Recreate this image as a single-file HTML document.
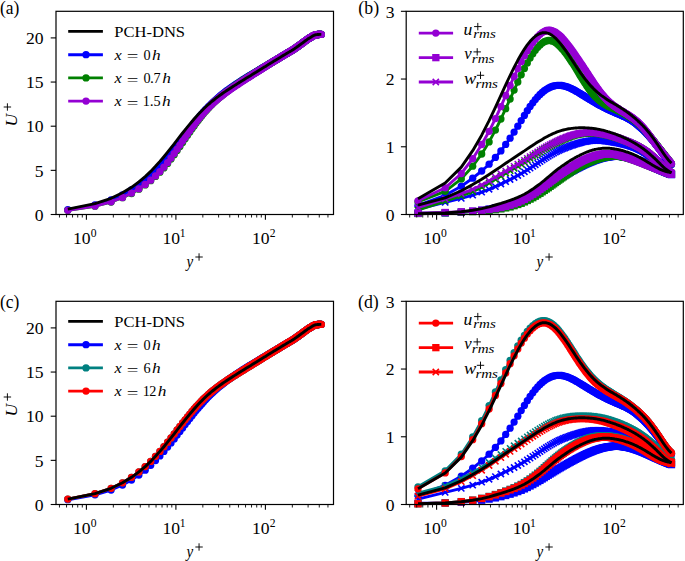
<!DOCTYPE html>
<html><head><meta charset="utf-8"><style>
html,body{margin:0;padding:0;background:#fff;}
svg{display:block;}
text{font-family:"Liberation Serif",serif;fill:#000;}
</style></head><body>
<svg width="685" height="561" viewBox="0 0 685 561">
<defs>
<marker id="ob" markerUnits="userSpaceOnUse" markerWidth="10" markerHeight="10" refX="5" refY="5" overflow="visible"><circle cx="5" cy="5" r="3.65" fill="#0000ff"/></marker>
<marker id="sb" markerUnits="userSpaceOnUse" markerWidth="10" markerHeight="10" refX="5" refY="5" overflow="visible"><rect x="1.35" y="1.35" width="7.3" height="7.3" fill="#0000ff"/></marker>
<marker id="xb" markerUnits="userSpaceOnUse" markerWidth="10" markerHeight="10" refX="5" refY="5" overflow="visible"><path d="M1.9,1.9L8.1,8.1M1.9,8.1L8.1,1.9" stroke="#0000ff" stroke-width="1.6" fill="none"/></marker>
<marker id="og" markerUnits="userSpaceOnUse" markerWidth="10" markerHeight="10" refX="5" refY="5" overflow="visible"><circle cx="5" cy="5" r="3.65" fill="#008000"/></marker>
<marker id="sg" markerUnits="userSpaceOnUse" markerWidth="10" markerHeight="10" refX="5" refY="5" overflow="visible"><rect x="1.35" y="1.35" width="7.3" height="7.3" fill="#008000"/></marker>
<marker id="xg" markerUnits="userSpaceOnUse" markerWidth="10" markerHeight="10" refX="5" refY="5" overflow="visible"><path d="M1.9,1.9L8.1,8.1M1.9,8.1L8.1,1.9" stroke="#008000" stroke-width="1.6" fill="none"/></marker>
<marker id="op" markerUnits="userSpaceOnUse" markerWidth="10" markerHeight="10" refX="5" refY="5" overflow="visible"><circle cx="5" cy="5" r="3.65" fill="#9400d3"/></marker>
<marker id="sp" markerUnits="userSpaceOnUse" markerWidth="10" markerHeight="10" refX="5" refY="5" overflow="visible"><rect x="1.35" y="1.35" width="7.3" height="7.3" fill="#9400d3"/></marker>
<marker id="xp" markerUnits="userSpaceOnUse" markerWidth="10" markerHeight="10" refX="5" refY="5" overflow="visible"><path d="M1.9,1.9L8.1,8.1M1.9,8.1L8.1,1.9" stroke="#9400d3" stroke-width="1.6" fill="none"/></marker>
<marker id="or" markerUnits="userSpaceOnUse" markerWidth="10" markerHeight="10" refX="5" refY="5" overflow="visible"><circle cx="5" cy="5" r="3.65" fill="#ff0000"/></marker>
<marker id="sr" markerUnits="userSpaceOnUse" markerWidth="10" markerHeight="10" refX="5" refY="5" overflow="visible"><rect x="1.35" y="1.35" width="7.3" height="7.3" fill="#ff0000"/></marker>
<marker id="xr" markerUnits="userSpaceOnUse" markerWidth="10" markerHeight="10" refX="5" refY="5" overflow="visible"><path d="M1.9,1.9L8.1,8.1M1.9,8.1L8.1,1.9" stroke="#ff0000" stroke-width="1.6" fill="none"/></marker>
<marker id="ot" markerUnits="userSpaceOnUse" markerWidth="10" markerHeight="10" refX="5" refY="5" overflow="visible"><circle cx="5" cy="5" r="3.65" fill="#008080"/></marker>
<marker id="st" markerUnits="userSpaceOnUse" markerWidth="10" markerHeight="10" refX="5" refY="5" overflow="visible"><rect x="1.35" y="1.35" width="7.3" height="7.3" fill="#008080"/></marker>
<marker id="xt" markerUnits="userSpaceOnUse" markerWidth="10" markerHeight="10" refX="5" refY="5" overflow="visible"><path d="M1.9,1.9L8.1,8.1M1.9,8.1L8.1,1.9" stroke="#008080" stroke-width="1.6" fill="none"/></marker>
<clipPath id="ca"><rect x="56" y="11.3" width="277.5" height="203.2"/></clipPath>
</defs>
<rect width="685" height="561" fill="#fff"/>
<path d="M67.8,209.7 95.0,204.8 111.1,200.0 122.5,195.0 131.5,190.0 138.9,185.1 145.2,180.2 150.7,175.3 155.5,170.6 159.9,165.9 163.9,161.4 167.6,157.1 171.0,152.9 174.2,148.9 177.1,145.0 179.9,141.4 182.6,137.9 185.1,134.6 187.5,131.5 189.8,128.6 192.0,125.8 194.1,123.1 196.1,120.6 198.1,118.3 200.0,116.0 201.8,113.9 203.5,111.9 205.3,110.0 206.9,108.3 208.5,106.6 210.1,105.1 211.6,103.6 213.1,102.2 214.6,100.8 216.0,99.6 217.4,98.3 218.8,97.1 220.1,96.0 221.4,94.9 222.7,93.9 224.0,92.9 225.2,91.9 226.4,91.0 227.6,90.1 228.8,89.3 229.9,88.5 231.1,87.7 232.2,86.9 233.3,86.1 234.4,85.4 235.5,84.7 236.5,84.0 237.6,83.3 238.6,82.6 239.6,82.0 240.6,81.3 241.6,80.7 242.6,80.0 243.5,79.4 244.5,78.8 245.4,78.2 246.4,77.7 247.3,77.1 248.2,76.5 249.1,76.0 250.0,75.4 250.9,74.9 251.7,74.4 252.6,73.8 253.5,73.3 254.3,72.8 255.1,72.3 256.0,71.8 256.8,71.3 257.6,70.8 258.4,70.3 259.2,69.9 260.0,69.4 260.8,68.9 261.6,68.4 262.4,68.0 263.1,67.5 263.9,67.1 264.7,66.6 265.4,66.2 266.2,65.7 266.9,65.3 267.6,64.8 268.4,64.4 269.1,64.0 269.8,63.5 270.5,63.1 271.2,62.7 271.9,62.3 272.6,61.9 273.3,61.5 274.0,61.0 274.7,60.6 275.4,60.2 276.0,59.8 276.7,59.4 277.4,59.0 278.0,58.6 278.7,58.3 279.3,57.9 280.0,57.5 280.6,57.1 281.2,56.7 281.9,56.3 282.5,55.9 283.1,55.6 283.7,55.2 284.4,54.8 285.0,54.5 285.6,54.1 286.2,53.7 286.8,53.4 287.4,53.0 288.0,52.7 288.5,52.3 289.1,52.0 289.7,51.7 290.3,51.3 290.9,51.0 291.4,50.7 292.0,50.3 292.6,50.0 293.1,49.6 293.7,49.2 294.2,48.9 294.8,48.5 295.3,48.1 295.8,47.8 296.4,47.4 296.9,47.0 297.4,46.6 298.0,46.3 298.5,45.9 299.0,45.5 299.5,45.1 300.0,44.8 300.5,44.4 301.0,44.1 301.5,43.7 302.0,43.3 302.5,43.0 303.0,42.6 303.5,42.2 304.0,41.9 304.5,41.5 304.9,41.1 305.4,40.8 305.9,40.4 306.4,40.1 306.8,39.8 307.3,39.4 307.7,39.1 308.2,38.8 308.6,38.5 309.1,38.3 309.5,38.0 310.0,37.7 310.4,37.5 310.8,37.2 311.3,36.9 311.7,36.7 312.1,36.4 312.5,36.1 312.9,35.9 313.4,35.7 313.8,35.5 314.2,35.3 314.6,35.1 315.0,35.0 315.4,34.8 315.8,34.7 316.2,34.7 316.6,34.6 316.9,34.6 317.3,34.6 317.7,34.5 318.1,34.5 318.4,34.5 318.8,34.5 319.2,34.4 319.5,34.4 319.9,34.4 320.3,34.4 320.6,34.4 321.0,34.4 321.3,34.4" stroke="#0000ff" stroke-width="2.9" fill="none" stroke-linejoin="round" stroke-linecap="butt" marker-start="url(#ob)" marker-mid="url(#ob)" marker-end="url(#ob)"/>
<path d="M67.8,210.3 95.0,206.2 111.1,202.0 122.5,197.7 131.5,193.5 138.9,189.2 145.2,184.9 150.7,180.7 155.5,176.4 159.9,172.2 163.9,167.9 167.6,163.4 171.0,159.0 174.2,154.7 177.1,150.5 179.9,146.4 182.6,142.4 185.1,138.7 187.5,135.2 189.8,131.9 192.0,128.8 194.1,125.9 196.1,123.1 198.1,120.5 200.0,118.0 201.8,115.7 203.5,113.6 205.3,111.6 206.9,109.7 208.5,107.9 210.1,106.2 211.6,104.7 213.1,103.2 214.6,101.8 216.0,100.5 217.4,99.2 218.8,98.1 220.1,96.9 221.4,95.9 222.7,94.8 224.0,93.8 225.2,92.8 226.4,91.9 227.6,91.0 228.8,90.1 229.9,89.3 231.1,88.4 232.2,87.6 233.3,86.8 234.4,86.1 235.5,85.3 236.5,84.6 237.6,83.9 238.6,83.2 239.6,82.5 240.6,81.8 241.6,81.2 242.6,80.5 243.5,79.9 244.5,79.3 245.4,78.7 246.4,78.1 247.3,77.6 248.2,77.0 249.1,76.5 250.0,75.9 250.9,75.4 251.7,74.8 252.6,74.3 253.5,73.7 254.3,73.2 255.1,72.7 256.0,72.2 256.8,71.7 257.6,71.2 258.4,70.7 259.2,70.2 260.0,69.7 260.8,69.2 261.6,68.7 262.4,68.2 263.1,67.8 263.9,67.3 264.7,66.8 265.4,66.4 266.2,65.9 266.9,65.4 267.6,65.0 268.4,64.5 269.1,64.1 269.8,63.7 270.5,63.2 271.2,62.8 271.9,62.4 272.6,61.9 273.3,61.5 274.0,61.1 274.7,60.7 275.4,60.3 276.0,59.9 276.7,59.5 277.4,59.1 278.0,58.7 278.7,58.3 279.3,57.9 280.0,57.5 280.6,57.1 281.2,56.7 281.9,56.3 282.5,55.9 283.1,55.6 283.7,55.2 284.4,54.8 285.0,54.5 285.6,54.1 286.2,53.7 286.8,53.4 287.4,53.0 288.0,52.7 288.5,52.3 289.1,52.0 289.7,51.7 290.3,51.3 290.9,51.0 291.4,50.7 292.0,50.3 292.6,50.0 293.1,49.6 293.7,49.2 294.2,48.9 294.8,48.5 295.3,48.1 295.8,47.8 296.4,47.4 296.9,47.0 297.4,46.6 298.0,46.3 298.5,45.9 299.0,45.5 299.5,45.1 300.0,44.8 300.5,44.4 301.0,44.1 301.5,43.7 302.0,43.3 302.5,43.0 303.0,42.6 303.5,42.2 304.0,41.9 304.5,41.5 304.9,41.1 305.4,40.8 305.9,40.4 306.4,40.1 306.8,39.8 307.3,39.4 307.7,39.1 308.2,38.8 308.6,38.5 309.1,38.3 309.5,38.0 310.0,37.7 310.4,37.5 310.8,37.2 311.3,36.9 311.7,36.7 312.1,36.4 312.5,36.1 312.9,35.9 313.4,35.7 313.8,35.5 314.2,35.3 314.6,35.1 315.0,35.0 315.4,34.8 315.8,34.7 316.2,34.7 316.6,34.6 316.9,34.6 317.3,34.6 317.7,34.5 318.1,34.5 318.4,34.5 318.8,34.5 319.2,34.4 319.5,34.4 319.9,34.4 320.3,34.4 320.6,34.4 321.0,34.4 321.3,34.4" stroke="#008000" stroke-width="2.9" fill="none" stroke-linejoin="round" stroke-linecap="butt" marker-start="url(#og)" marker-mid="url(#og)" marker-end="url(#og)"/>
<path d="M67.8,210.3 95.0,206.0 111.1,201.8 122.5,197.5 131.5,193.1 138.9,188.8 145.2,184.5 150.7,180.2 155.5,175.9 159.9,171.6 163.9,167.1 167.6,162.6 171.0,158.1 174.2,153.6 177.1,149.3 179.9,145.1 182.6,141.1 185.1,137.4 187.5,133.9 189.8,130.7 192.0,127.6 194.1,124.8 196.1,122.1 198.1,119.6 200.0,117.2 201.8,115.0 203.5,113.0 205.3,111.0 206.9,109.2 208.5,107.5 210.1,105.9 211.6,104.4 213.1,103.0 214.6,101.7 216.0,100.4 217.4,99.2 218.8,98.1 220.1,97.0 221.4,95.9 222.7,94.9 224.0,94.0 225.2,93.0 226.4,92.1 227.6,91.3 228.8,90.4 229.9,89.6 231.1,88.8 232.2,88.0 233.3,87.2 234.4,86.5 235.5,85.8 236.5,85.1 237.6,84.4 238.6,83.7 239.6,83.0 240.6,82.3 241.6,81.7 242.6,81.1 243.5,80.4 244.5,79.8 245.4,79.2 246.4,78.6 247.3,78.0 248.2,77.4 249.1,76.9 250.0,76.3 250.9,75.7 251.7,75.2 252.6,74.6 253.5,74.1 254.3,73.5 255.1,73.0 256.0,72.5 256.8,71.9 257.6,71.4 258.4,70.9 259.2,70.4 260.0,69.9 260.8,69.4 261.6,68.9 262.4,68.4 263.1,67.9 263.9,67.4 264.7,66.9 265.4,66.5 266.2,66.0 266.9,65.5 267.6,65.1 268.4,64.6 269.1,64.2 269.8,63.7 270.5,63.3 271.2,62.8 271.9,62.4 272.6,62.0 273.3,61.5 274.0,61.1 274.7,60.7 275.4,60.3 276.0,59.9 276.7,59.5 277.4,59.1 278.0,58.7 278.7,58.3 279.3,57.9 280.0,57.5 280.6,57.1 281.2,56.7 281.9,56.3 282.5,55.9 283.1,55.6 283.7,55.2 284.4,54.8 285.0,54.5 285.6,54.1 286.2,53.7 286.8,53.4 287.4,53.0 288.0,52.7 288.5,52.3 289.1,52.0 289.7,51.7 290.3,51.3 290.9,51.0 291.4,50.7 292.0,50.3 292.6,50.0 293.1,49.6 293.7,49.2 294.2,48.9 294.8,48.5 295.3,48.1 295.8,47.8 296.4,47.4 296.9,47.0 297.4,46.6 298.0,46.3 298.5,45.9 299.0,45.5 299.5,45.1 300.0,44.8 300.5,44.4 301.0,44.1 301.5,43.7 302.0,43.3 302.5,43.0 303.0,42.6 303.5,42.2 304.0,41.9 304.5,41.5 304.9,41.1 305.4,40.8 305.9,40.4 306.4,40.1 306.8,39.8 307.3,39.4 307.7,39.1 308.2,38.8 308.6,38.5 309.1,38.3 309.5,38.0 310.0,37.7 310.4,37.5 310.8,37.2 311.3,36.9 311.7,36.7 312.1,36.4 312.5,36.1 312.9,35.9 313.4,35.7 313.8,35.5 314.2,35.3 314.6,35.1 315.0,35.0 315.4,34.8 315.8,34.7 316.2,34.7 316.6,34.6 316.9,34.6 317.3,34.6 317.7,34.5 318.1,34.5 318.4,34.5 318.8,34.5 319.2,34.4 319.5,34.4 319.9,34.4 320.3,34.4 320.6,34.4 321.0,34.4 321.3,34.4" stroke="#9400d3" stroke-width="2.9" fill="none" stroke-linejoin="round" stroke-linecap="butt" marker-start="url(#op)" marker-mid="url(#op)" marker-end="url(#op)"/>
<path d="M67.8,209.1 95.0,203.7 111.1,198.3 122.5,192.8 131.5,187.3 138.9,181.9 145.2,176.6 150.7,171.4 155.5,166.3 159.9,161.4 163.9,156.7 167.6,152.2 171.0,147.9 174.2,143.9 177.1,140.0 179.9,136.4 182.6,133.0 185.1,129.8 187.5,126.9 189.8,124.1 192.0,121.5 194.1,119.0 196.1,116.7 198.1,114.6 200.0,112.6 201.8,110.7 203.5,109.0 205.3,107.3 206.9,105.8 208.5,104.3 210.1,103.0 211.6,101.7 213.1,100.5 214.6,99.3 216.0,98.2 217.4,97.1 218.8,96.1 220.1,95.1 221.4,94.2 222.7,93.3 224.0,92.4 225.2,91.6 226.4,90.8 227.6,90.0 228.8,89.2 229.9,88.5 231.1,87.7 232.2,87.0 233.3,86.3 234.4,85.6 235.5,84.9 236.5,84.3 237.6,83.6 238.6,83.0 239.6,82.3 240.6,81.7 241.6,81.1 242.6,80.5 243.5,79.9 244.5,79.3 245.4,78.7 246.4,78.1 247.3,77.6 248.2,77.0 249.1,76.5 250.0,75.9 250.9,75.4 251.7,74.8 252.6,74.3 253.5,73.7 254.3,73.2 255.1,72.7 256.0,72.2 256.8,71.7 257.6,71.2 258.4,70.7 259.2,70.2 260.0,69.7 260.8,69.2 261.6,68.7 262.4,68.2 263.1,67.8 263.9,67.3 264.7,66.8 265.4,66.4 266.2,65.9 266.9,65.4 267.6,65.0 268.4,64.5 269.1,64.1 269.8,63.7 270.5,63.2 271.2,62.8 271.9,62.4 272.6,61.9 273.3,61.5 274.0,61.1 274.7,60.7 275.4,60.3 276.0,59.9 276.7,59.5 277.4,59.1 278.0,58.7 278.7,58.3 279.3,57.9 280.0,57.5 280.6,57.1 281.2,56.7 281.9,56.3 282.5,55.9 283.1,55.6 283.7,55.2 284.4,54.8 285.0,54.5 285.6,54.1 286.2,53.7 286.8,53.4 287.4,53.0 288.0,52.7 288.5,52.3 289.1,52.0 289.7,51.7 290.3,51.3 290.9,51.0 291.4,50.7 292.0,50.3 292.6,50.0 293.1,49.6 293.7,49.2 294.2,48.9 294.8,48.5 295.3,48.1 295.8,47.8 296.4,47.4 296.9,47.0 297.4,46.6 298.0,46.3 298.5,45.9 299.0,45.5 299.5,45.1 300.0,44.8 300.5,44.4 301.0,44.1 301.5,43.7 302.0,43.3 302.5,43.0 303.0,42.6 303.5,42.2 304.0,41.9 304.5,41.5 304.9,41.1 305.4,40.8 305.9,40.4 306.4,40.1 306.8,39.8 307.3,39.4 307.7,39.1 308.2,38.8 308.6,38.5 309.1,38.3 309.5,38.0 310.0,37.7 310.4,37.5 310.8,37.2 311.3,36.9 311.7,36.7 312.1,36.4 312.5,36.1 312.9,35.9 313.4,35.7 313.8,35.5 314.2,35.3 314.6,35.1 315.0,35.0 315.4,34.8 315.8,34.7 316.2,34.7 316.6,34.6 316.9,34.6 317.3,34.6 317.7,34.5 318.1,34.5 318.4,34.5 318.8,34.5 319.2,34.4 319.5,34.4 319.9,34.4 320.3,34.4 320.6,34.4 321.0,34.4 321.3,34.4" stroke="#000" stroke-width="2.9" fill="none" stroke-linejoin="round" stroke-linecap="butt"/>
<path d="M67.8,499.7 95.0,494.8 111.1,490.0 122.5,485.0 131.5,480.0 138.9,475.1 145.2,470.2 150.7,465.3 155.5,460.6 159.9,455.9 163.9,451.4 167.6,447.1 171.0,442.9 174.2,438.9 177.1,435.0 179.9,431.4 182.6,427.9 185.1,424.6 187.5,421.5 189.8,418.6 192.0,415.8 194.1,413.1 196.1,410.6 198.1,408.3 200.0,406.0 201.8,403.9 203.5,401.9 205.3,400.0 206.9,398.3 208.5,396.6 210.1,395.1 211.6,393.6 213.1,392.2 214.6,390.8 216.0,389.6 217.4,388.3 218.8,387.1 220.1,386.0 221.4,384.9 222.7,383.9 224.0,382.9 225.2,381.9 226.4,381.0 227.6,380.1 228.8,379.3 229.9,378.5 231.1,377.7 232.2,376.9 233.3,376.1 234.4,375.4 235.5,374.7 236.5,374.0 237.6,373.3 238.6,372.6 239.6,372.0 240.6,371.3 241.6,370.7 242.6,370.0 243.5,369.4 244.5,368.8 245.4,368.2 246.4,367.7 247.3,367.1 248.2,366.5 249.1,366.0 250.0,365.4 250.9,364.9 251.7,364.4 252.6,363.8 253.5,363.3 254.3,362.8 255.1,362.3 256.0,361.8 256.8,361.3 257.6,360.8 258.4,360.3 259.2,359.9 260.0,359.4 260.8,358.9 261.6,358.4 262.4,358.0 263.1,357.5 263.9,357.1 264.7,356.6 265.4,356.2 266.2,355.7 266.9,355.3 267.6,354.8 268.4,354.4 269.1,354.0 269.8,353.5 270.5,353.1 271.2,352.7 271.9,352.3 272.6,351.9 273.3,351.5 274.0,351.0 274.7,350.6 275.4,350.2 276.0,349.8 276.7,349.4 277.4,349.0 278.0,348.6 278.7,348.3 279.3,347.9 280.0,347.5 280.6,347.1 281.2,346.7 281.9,346.3 282.5,345.9 283.1,345.6 283.7,345.2 284.4,344.8 285.0,344.5 285.6,344.1 286.2,343.7 286.8,343.4 287.4,343.0 288.0,342.7 288.5,342.3 289.1,342.0 289.7,341.7 290.3,341.3 290.9,341.0 291.4,340.7 292.0,340.3 292.6,340.0 293.1,339.6 293.7,339.2 294.2,338.9 294.8,338.5 295.3,338.1 295.8,337.8 296.4,337.4 296.9,337.0 297.4,336.6 298.0,336.3 298.5,335.9 299.0,335.5 299.5,335.1 300.0,334.8 300.5,334.4 301.0,334.1 301.5,333.7 302.0,333.3 302.5,333.0 303.0,332.6 303.5,332.2 304.0,331.9 304.5,331.5 304.9,331.1 305.4,330.8 305.9,330.4 306.4,330.1 306.8,329.8 307.3,329.4 307.7,329.1 308.2,328.8 308.6,328.5 309.1,328.3 309.5,328.0 310.0,327.7 310.4,327.5 310.8,327.2 311.3,326.9 311.7,326.7 312.1,326.4 312.5,326.1 312.9,325.9 313.4,325.7 313.8,325.5 314.2,325.3 314.6,325.1 315.0,325.0 315.4,324.8 315.8,324.7 316.2,324.7 316.6,324.6 316.9,324.6 317.3,324.6 317.7,324.5 318.1,324.5 318.4,324.5 318.8,324.5 319.2,324.4 319.5,324.4 319.9,324.4 320.3,324.4 320.6,324.4 321.0,324.4 321.3,324.4" stroke="#0000ff" stroke-width="2.9" fill="none" stroke-linejoin="round" stroke-linecap="butt" marker-start="url(#ob)" marker-mid="url(#ob)" marker-end="url(#ob)"/>
<path d="M67.8,499.1 95.0,493.7 111.1,488.3 122.5,482.8 131.5,477.3 138.9,471.9 145.2,466.6 150.7,461.4 155.5,456.3 159.9,451.4 163.9,446.7 167.6,442.2 171.0,437.9 174.2,433.9 177.1,430.0 179.9,426.4 182.6,423.0 185.1,419.8 187.5,416.9 189.8,414.1 192.0,411.5 194.1,409.0 196.1,406.7 198.1,404.6 200.0,402.6 201.8,400.7 203.5,399.0 205.3,397.3 206.9,395.8 208.5,394.3 210.1,393.0 211.6,391.7 213.1,390.5 214.6,389.3 216.0,388.2 217.4,387.1 218.8,386.1 220.1,385.1 221.4,384.2 222.7,383.3 224.0,382.4 225.2,381.6 226.4,380.8 227.6,380.0 228.8,379.2 229.9,378.5 231.1,377.7 232.2,377.0 233.3,376.3 234.4,375.6 235.5,374.9 236.5,374.3 237.6,373.6 238.6,373.0 239.6,372.3 240.6,371.7 241.6,371.1 242.6,370.5 243.5,369.9 244.5,369.3 245.4,368.7 246.4,368.1 247.3,367.6 248.2,367.0 249.1,366.5 250.0,365.9 250.9,365.4 251.7,364.8 252.6,364.3 253.5,363.7 254.3,363.2 255.1,362.7 256.0,362.2 256.8,361.7 257.6,361.2 258.4,360.7 259.2,360.2 260.0,359.7 260.8,359.2 261.6,358.7 262.4,358.2 263.1,357.8 263.9,357.3 264.7,356.8 265.4,356.4 266.2,355.9 266.9,355.4 267.6,355.0 268.4,354.5 269.1,354.1 269.8,353.7 270.5,353.2 271.2,352.8 271.9,352.4 272.6,351.9 273.3,351.5 274.0,351.1 274.7,350.7 275.4,350.3 276.0,349.9 276.7,349.5 277.4,349.1 278.0,348.7 278.7,348.3 279.3,347.9 280.0,347.5 280.6,347.1 281.2,346.7 281.9,346.3 282.5,345.9 283.1,345.6 283.7,345.2 284.4,344.8 285.0,344.5 285.6,344.1 286.2,343.7 286.8,343.4 287.4,343.0 288.0,342.7 288.5,342.3 289.1,342.0 289.7,341.7 290.3,341.3 290.9,341.0 291.4,340.7 292.0,340.3 292.6,340.0 293.1,339.6 293.7,339.2 294.2,338.9 294.8,338.5 295.3,338.1 295.8,337.8 296.4,337.4 296.9,337.0 297.4,336.6 298.0,336.3 298.5,335.9 299.0,335.5 299.5,335.1 300.0,334.8 300.5,334.4 301.0,334.1 301.5,333.7 302.0,333.3 302.5,333.0 303.0,332.6 303.5,332.2 304.0,331.9 304.5,331.5 304.9,331.1 305.4,330.8 305.9,330.4 306.4,330.1 306.8,329.8 307.3,329.4 307.7,329.1 308.2,328.8 308.6,328.5 309.1,328.3 309.5,328.0 310.0,327.7 310.4,327.5 310.8,327.2 311.3,326.9 311.7,326.7 312.1,326.4 312.5,326.1 312.9,325.9 313.4,325.7 313.8,325.5 314.2,325.3 314.6,325.1 315.0,325.0 315.4,324.8 315.8,324.7 316.2,324.7 316.6,324.6 316.9,324.6 317.3,324.6 317.7,324.5 318.1,324.5 318.4,324.5 318.8,324.5 319.2,324.4 319.5,324.4 319.9,324.4 320.3,324.4 320.6,324.4 321.0,324.4 321.3,324.4" stroke="#008080" stroke-width="2.9" fill="none" stroke-linejoin="round" stroke-linecap="butt" marker-start="url(#ot)" marker-mid="url(#ot)" marker-end="url(#ot)"/>
<path d="M67.8,499.1 95.0,493.7 111.1,488.3 122.5,482.8 131.5,477.3 138.9,471.9 145.2,466.6 150.7,461.4 155.5,456.3 159.9,451.4 163.9,446.7 167.6,442.2 171.0,437.9 174.2,433.9 177.1,430.0 179.9,426.4 182.6,423.0 185.1,419.8 187.5,416.9 189.8,414.1 192.0,411.5 194.1,409.0 196.1,406.7 198.1,404.6 200.0,402.6 201.8,400.7 203.5,399.0 205.3,397.3 206.9,395.8 208.5,394.3 210.1,393.0 211.6,391.7 213.1,390.5 214.6,389.3 216.0,388.2 217.4,387.1 218.8,386.1 220.1,385.1 221.4,384.2 222.7,383.3 224.0,382.4 225.2,381.6 226.4,380.8 227.6,380.0 228.8,379.2 229.9,378.5 231.1,377.7 232.2,377.0 233.3,376.3 234.4,375.6 235.5,374.9 236.5,374.3 237.6,373.6 238.6,373.0 239.6,372.3 240.6,371.7 241.6,371.1 242.6,370.5 243.5,369.9 244.5,369.3 245.4,368.7 246.4,368.1 247.3,367.6 248.2,367.0 249.1,366.5 250.0,365.9 250.9,365.4 251.7,364.8 252.6,364.3 253.5,363.7 254.3,363.2 255.1,362.7 256.0,362.2 256.8,361.7 257.6,361.2 258.4,360.7 259.2,360.2 260.0,359.7 260.8,359.2 261.6,358.7 262.4,358.2 263.1,357.8 263.9,357.3 264.7,356.8 265.4,356.4 266.2,355.9 266.9,355.4 267.6,355.0 268.4,354.5 269.1,354.1 269.8,353.7 270.5,353.2 271.2,352.8 271.9,352.4 272.6,351.9 273.3,351.5 274.0,351.1 274.7,350.7 275.4,350.3 276.0,349.9 276.7,349.5 277.4,349.1 278.0,348.7 278.7,348.3 279.3,347.9 280.0,347.5 280.6,347.1 281.2,346.7 281.9,346.3 282.5,345.9 283.1,345.6 283.7,345.2 284.4,344.8 285.0,344.5 285.6,344.1 286.2,343.7 286.8,343.4 287.4,343.0 288.0,342.7 288.5,342.3 289.1,342.0 289.7,341.7 290.3,341.3 290.9,341.0 291.4,340.7 292.0,340.3 292.6,340.0 293.1,339.6 293.7,339.2 294.2,338.9 294.8,338.5 295.3,338.1 295.8,337.8 296.4,337.4 296.9,337.0 297.4,336.6 298.0,336.3 298.5,335.9 299.0,335.5 299.5,335.1 300.0,334.8 300.5,334.4 301.0,334.1 301.5,333.7 302.0,333.3 302.5,333.0 303.0,332.6 303.5,332.2 304.0,331.9 304.5,331.5 304.9,331.1 305.4,330.8 305.9,330.4 306.4,330.1 306.8,329.8 307.3,329.4 307.7,329.1 308.2,328.8 308.6,328.5 309.1,328.3 309.5,328.0 310.0,327.7 310.4,327.5 310.8,327.2 311.3,326.9 311.7,326.7 312.1,326.4 312.5,326.1 312.9,325.9 313.4,325.7 313.8,325.5 314.2,325.3 314.6,325.1 315.0,325.0 315.4,324.8 315.8,324.7 316.2,324.7 316.6,324.6 316.9,324.6 317.3,324.6 317.7,324.5 318.1,324.5 318.4,324.5 318.8,324.5 319.2,324.4 319.5,324.4 319.9,324.4 320.3,324.4 320.6,324.4 321.0,324.4 321.3,324.4" stroke="#ff0000" stroke-width="2.9" fill="none" stroke-linejoin="round" stroke-linecap="butt" marker-start="url(#or)" marker-mid="url(#or)" marker-end="url(#or)"/>
<path d="M67.8,499.1 95.0,493.7 111.1,488.3 122.5,482.8 131.5,477.3 138.9,471.9 145.2,466.6 150.7,461.4 155.5,456.3 159.9,451.4 163.9,446.7 167.6,442.2 171.0,437.9 174.2,433.9 177.1,430.0 179.9,426.4 182.6,423.0 185.1,419.8 187.5,416.9 189.8,414.1 192.0,411.5 194.1,409.0 196.1,406.7 198.1,404.6 200.0,402.6 201.8,400.7 203.5,399.0 205.3,397.3 206.9,395.8 208.5,394.3 210.1,393.0 211.6,391.7 213.1,390.5 214.6,389.3 216.0,388.2 217.4,387.1 218.8,386.1 220.1,385.1 221.4,384.2 222.7,383.3 224.0,382.4 225.2,381.6 226.4,380.8 227.6,380.0 228.8,379.2 229.9,378.5 231.1,377.7 232.2,377.0 233.3,376.3 234.4,375.6 235.5,374.9 236.5,374.3 237.6,373.6 238.6,373.0 239.6,372.3 240.6,371.7 241.6,371.1 242.6,370.5 243.5,369.9 244.5,369.3 245.4,368.7 246.4,368.1 247.3,367.6 248.2,367.0 249.1,366.5 250.0,365.9 250.9,365.4 251.7,364.8 252.6,364.3 253.5,363.7 254.3,363.2 255.1,362.7 256.0,362.2 256.8,361.7 257.6,361.2 258.4,360.7 259.2,360.2 260.0,359.7 260.8,359.2 261.6,358.7 262.4,358.2 263.1,357.8 263.9,357.3 264.7,356.8 265.4,356.4 266.2,355.9 266.9,355.4 267.6,355.0 268.4,354.5 269.1,354.1 269.8,353.7 270.5,353.2 271.2,352.8 271.9,352.4 272.6,351.9 273.3,351.5 274.0,351.1 274.7,350.7 275.4,350.3 276.0,349.9 276.7,349.5 277.4,349.1 278.0,348.7 278.7,348.3 279.3,347.9 280.0,347.5 280.6,347.1 281.2,346.7 281.9,346.3 282.5,345.9 283.1,345.6 283.7,345.2 284.4,344.8 285.0,344.5 285.6,344.1 286.2,343.7 286.8,343.4 287.4,343.0 288.0,342.7 288.5,342.3 289.1,342.0 289.7,341.7 290.3,341.3 290.9,341.0 291.4,340.7 292.0,340.3 292.6,340.0 293.1,339.6 293.7,339.2 294.2,338.9 294.8,338.5 295.3,338.1 295.8,337.8 296.4,337.4 296.9,337.0 297.4,336.6 298.0,336.3 298.5,335.9 299.0,335.5 299.5,335.1 300.0,334.8 300.5,334.4 301.0,334.1 301.5,333.7 302.0,333.3 302.5,333.0 303.0,332.6 303.5,332.2 304.0,331.9 304.5,331.5 304.9,331.1 305.4,330.8 305.9,330.4 306.4,330.1 306.8,329.8 307.3,329.4 307.7,329.1 308.2,328.8 308.6,328.5 309.1,328.3 309.5,328.0 310.0,327.7 310.4,327.5 310.8,327.2 311.3,326.9 311.7,326.7 312.1,326.4 312.5,326.1 312.9,325.9 313.4,325.7 313.8,325.5 314.2,325.3 314.6,325.1 315.0,325.0 315.4,324.8 315.8,324.7 316.2,324.7 316.6,324.6 316.9,324.6 317.3,324.6 317.7,324.5 318.1,324.5 318.4,324.5 318.8,324.5 319.2,324.4 319.5,324.4 319.9,324.4 320.3,324.4 320.6,324.4 321.0,324.4 321.3,324.4" stroke="#000" stroke-width="2.9" fill="none" stroke-linejoin="round" stroke-linecap="butt"/>
<path d="M418.0,205.4 445.2,195.3 461.3,186.2 472.7,178.2 481.7,171.0 489.1,164.2 495.4,157.4 500.9,150.9 505.7,144.4 510.1,138.2 514.1,132.1 517.8,126.2 521.2,120.6 524.4,115.4 527.3,110.7 530.1,106.5 532.8,102.8 535.3,99.6 537.7,96.8 540.0,94.4 542.2,92.4 544.3,90.7 546.3,89.3 548.3,88.2 550.2,87.2 552.0,86.5 553.7,86.0 555.5,85.6 557.1,85.4 558.7,85.3 560.3,85.4 561.8,85.5 563.3,85.8 564.8,86.1 566.2,86.6 567.6,87.0 569.0,87.6 570.3,88.1 571.6,88.7 572.9,89.4 574.2,90.0 575.4,90.7 576.6,91.4 577.8,92.1 579.0,92.8 580.1,93.5 581.3,94.2 582.4,94.9 583.5,95.5 584.6,96.2 585.7,96.9 586.7,97.5 587.8,98.2 588.8,98.8 589.8,99.4 590.8,100.0 591.8,100.6 592.8,101.2 593.7,101.7 594.7,102.3 595.6,102.8 596.6,103.4 597.5,103.9 598.4,104.4 599.3,104.9 600.2,105.4 601.1,105.8 601.9,106.3 602.8,106.8 603.7,107.2 604.5,107.6 605.3,108.0 606.2,108.4 607.0,108.9 607.8,109.2 608.6,109.6 609.4,110.0 610.2,110.4 611.0,110.7 611.8,111.1 612.6,111.4 613.3,111.8 614.1,112.1 614.9,112.5 615.6,112.8 616.4,113.1 617.1,113.4 617.8,113.7 618.6,114.0 619.3,114.3 620.0,114.6 620.7,114.9 621.4,115.3 622.1,115.6 622.8,115.9 623.5,116.2 624.2,116.5 624.9,116.8 625.6,117.1 626.2,117.5 626.9,117.8 627.6,118.2 628.2,118.5 628.9,118.9 629.5,119.2 630.2,119.6 630.8,120.0 631.4,120.4 632.1,120.8 632.7,121.2 633.3,121.7 633.9,122.1 634.6,122.6 635.2,123.0 635.8,123.5 636.4,123.9 637.0,124.4 637.6,124.9 638.2,125.4 638.7,125.9 639.3,126.4 639.9,126.9 640.5,127.4 641.1,127.9 641.6,128.5 642.2,129.0 642.8,129.5 643.3,130.1 643.9,130.6 644.4,131.2 645.0,131.7 645.5,132.3 646.0,132.8 646.6,133.4 647.1,134.0 647.6,134.5 648.2,135.1 648.7,135.7 649.2,136.3 649.7,136.8 650.2,137.4 650.7,138.0 651.2,138.6 651.7,139.2 652.2,139.8 652.7,140.4 653.2,141.0 653.7,141.6 654.2,142.2 654.7,142.8 655.1,143.4 655.6,144.0 656.1,144.7 656.6,145.3 657.0,145.9 657.5,146.5 657.9,147.1 658.4,147.7 658.8,148.3 659.3,148.9 659.7,149.5 660.2,150.1 660.6,150.7 661.0,151.3 661.5,151.9 661.9,152.4 662.3,153.0 662.7,153.6 663.1,154.2 663.6,154.7 664.0,155.3 664.4,155.8 664.8,156.4 665.2,156.9 665.6,157.5 666.0,158.0 666.4,158.5 666.8,159.0 667.1,159.5 667.5,160.0 667.9,160.5 668.3,160.9 668.6,161.4 669.0,161.8 669.4,162.2 669.7,162.6 670.1,163.0 670.5,163.4 670.8,163.7 671.2,164.1 671.5,164.5" stroke="#0000ff" stroke-width="2.9" fill="none" stroke-linejoin="round" stroke-linecap="butt" marker-start="url(#ob)" marker-mid="url(#ob)" marker-end="url(#ob)"/>
<path d="M418.0,213.2 445.2,212.9 461.3,212.2 472.7,211.3 481.7,210.2 489.1,209.1 495.4,207.9 500.9,206.7 505.7,205.5 510.1,204.2 514.1,202.9 517.8,201.6 521.2,200.3 524.4,198.9 527.3,197.5 530.1,196.0 532.8,194.6 535.3,193.1 537.7,191.7 540.0,190.4 542.2,189.0 544.3,187.7 546.3,186.4 548.3,185.2 550.2,184.0 552.0,182.9 553.7,181.8 555.5,180.7 557.1,179.7 558.7,178.7 560.3,177.8 561.8,176.9 563.3,176.0 564.8,175.2 566.2,174.4 567.6,173.6 569.0,172.8 570.3,172.1 571.6,171.4 572.9,170.7 574.2,170.0 575.4,169.3 576.6,168.7 577.8,168.1 579.0,167.5 580.1,166.9 581.3,166.3 582.4,165.8 583.5,165.2 584.6,164.7 585.7,164.2 586.7,163.7 587.8,163.3 588.8,162.8 589.8,162.4 590.8,162.0 591.8,161.6 592.8,161.2 593.7,160.8 594.7,160.4 595.6,160.1 596.6,159.8 597.5,159.5 598.4,159.2 599.3,158.9 600.2,158.6 601.1,158.4 601.9,158.2 602.8,157.9 603.7,157.7 604.5,157.6 605.3,157.4 606.2,157.2 607.0,157.1 607.8,156.9 608.6,156.8 609.4,156.7 610.2,156.6 611.0,156.5 611.8,156.4 612.6,156.4 613.3,156.3 614.1,156.3 614.9,156.2 615.6,156.2 616.4,156.2 617.1,156.2 617.8,156.2 618.6,156.3 619.3,156.3 620.0,156.3 620.7,156.4 621.4,156.4 622.1,156.5 622.8,156.6 623.5,156.7 624.2,156.8 624.9,156.9 625.6,157.0 626.2,157.1 626.9,157.2 627.6,157.3 628.2,157.5 628.9,157.6 629.5,157.8 630.2,157.9 630.8,158.1 631.4,158.2 632.1,158.4 632.7,158.6 633.3,158.8 633.9,159.0 634.6,159.2 635.2,159.4 635.8,159.6 636.4,159.8 637.0,160.0 637.6,160.2 638.2,160.4 638.7,160.6 639.3,160.8 639.9,161.0 640.5,161.3 641.1,161.5 641.6,161.7 642.2,161.9 642.8,162.2 643.3,162.4 643.9,162.6 644.4,162.9 645.0,163.1 645.5,163.3 646.0,163.6 646.6,163.8 647.1,164.0 647.6,164.3 648.2,164.5 648.7,164.7 649.2,165.0 649.7,165.2 650.2,165.4 650.7,165.7 651.2,165.9 651.7,166.1 652.2,166.3 652.7,166.6 653.2,166.8 653.7,167.0 654.2,167.2 654.7,167.5 655.1,167.7 655.6,167.9 656.1,168.1 656.6,168.3 657.0,168.5 657.5,168.7 657.9,168.9 658.4,169.1 658.8,169.3 659.3,169.5 659.7,169.7 660.2,169.9 660.6,170.1 661.0,170.3 661.5,170.5 661.9,170.7 662.3,170.8 662.7,171.0 663.1,171.2 663.6,171.4 664.0,171.5 664.4,171.7 664.8,171.9 665.2,172.0 665.6,172.2 666.0,172.4 666.4,172.5 666.8,172.7 667.1,172.8 667.5,173.0 667.9,173.1 668.3,173.3 668.6,173.4 669.0,173.6 669.4,173.7 669.7,173.9 670.1,174.0 670.5,174.2 670.8,174.3 671.2,174.4 671.5,174.6" stroke="#0000ff" stroke-width="2.9" fill="none" stroke-linejoin="round" stroke-linecap="butt" marker-start="url(#sb)" marker-mid="url(#sb)" marker-end="url(#sb)"/>
<path d="M418.0,209.1 445.2,202.4 461.3,198.4 472.7,195.2 481.7,192.2 489.1,189.3 495.4,186.6 500.9,184.0 505.7,181.7 510.1,179.5 514.1,177.5 517.8,175.5 521.2,173.6 524.4,171.8 527.3,169.9 530.1,168.2 532.8,166.4 535.3,164.8 537.7,163.2 540.0,161.6 542.2,160.2 544.3,158.8 546.3,157.5 548.3,156.3 550.2,155.1 552.0,154.1 553.7,153.1 555.5,152.2 557.1,151.3 558.7,150.5 560.3,149.8 561.8,149.2 563.3,148.5 564.8,148.0 566.2,147.4 567.6,146.9 569.0,146.4 570.3,145.9 571.6,145.4 572.9,145.0 574.2,144.6 575.4,144.2 576.6,143.8 577.8,143.4 579.0,143.1 580.1,142.8 581.3,142.5 582.4,142.2 583.5,141.9 584.6,141.7 585.7,141.5 586.7,141.3 587.8,141.1 588.8,140.9 589.8,140.8 590.8,140.7 591.8,140.6 592.8,140.5 593.7,140.4 594.7,140.4 595.6,140.4 596.6,140.4 597.5,140.4 598.4,140.4 599.3,140.4 600.2,140.5 601.1,140.5 601.9,140.6 602.8,140.7 603.7,140.8 604.5,140.9 605.3,141.0 606.2,141.1 607.0,141.2 607.8,141.3 608.6,141.4 609.4,141.5 610.2,141.7 611.0,141.8 611.8,141.9 612.6,142.0 613.3,142.2 614.1,142.3 614.9,142.4 615.6,142.5 616.4,142.7 617.1,142.8 617.8,142.9 618.6,143.1 619.3,143.2 620.0,143.4 620.7,143.5 621.4,143.7 622.1,143.8 622.8,144.0 623.5,144.1 624.2,144.3 624.9,144.5 625.6,144.6 626.2,144.8 626.9,145.0 627.6,145.2 628.2,145.4 628.9,145.6 629.5,145.8 630.2,146.0 630.8,146.2 631.4,146.4 632.1,146.6 632.7,146.8 633.3,147.0 633.9,147.3 634.6,147.5 635.2,147.7 635.8,148.0 636.4,148.2 637.0,148.5 637.6,148.7 638.2,149.0 638.7,149.3 639.3,149.6 639.9,149.8 640.5,150.1 641.1,150.4 641.6,150.7 642.2,151.0 642.8,151.3 643.3,151.6 643.9,152.0 644.4,152.3 645.0,152.6 645.5,152.9 646.0,153.3 646.6,153.6 647.1,154.0 647.6,154.3 648.2,154.7 648.7,155.1 649.2,155.4 649.7,155.8 650.2,156.2 650.7,156.6 651.2,157.0 651.7,157.4 652.2,157.8 652.7,158.2 653.2,158.6 653.7,159.0 654.2,159.4 654.7,159.9 655.1,160.3 655.6,160.7 656.1,161.1 656.6,161.5 657.0,162.0 657.5,162.4 657.9,162.8 658.4,163.2 658.8,163.6 659.3,164.0 659.7,164.4 660.2,164.8 660.6,165.2 661.0,165.6 661.5,166.0 661.9,166.4 662.3,166.8 662.7,167.1 663.1,167.5 663.6,167.9 664.0,168.2 664.4,168.6 664.8,168.9 665.2,169.3 665.6,169.6 666.0,169.9 666.4,170.3 666.8,170.6 667.1,170.9 667.5,171.2 667.9,171.5 668.3,171.8 668.6,172.0 669.0,172.3 669.4,172.6 669.7,172.8 670.1,173.1 670.5,173.3 670.8,173.6 671.2,173.8 671.5,174.1" stroke="#0000ff" stroke-width="2.9" fill="none" stroke-linejoin="round" stroke-linecap="butt" marker-start="url(#xb)" marker-mid="url(#xb)" marker-end="url(#xb)"/>
<path d="M418.0,201.8 445.2,191.3 461.3,178.9 472.7,166.2 481.7,154.0 489.1,141.9 495.4,130.1 500.9,119.0 505.7,108.7 510.1,99.0 514.1,90.1 517.8,82.0 521.2,74.8 524.4,68.5 527.3,62.9 530.1,58.0 532.8,53.8 535.3,50.3 537.7,47.3 540.0,44.9 542.2,43.1 544.3,41.7 546.3,40.9 548.3,40.5 550.2,40.5 552.0,40.9 553.7,41.6 555.5,42.6 557.1,43.8 558.7,45.2 560.3,46.7 561.8,48.4 563.3,50.1 564.8,51.9 566.2,53.8 567.6,55.7 569.0,57.7 570.3,59.7 571.6,61.7 572.9,63.6 574.2,65.6 575.4,67.6 576.6,69.6 577.8,71.5 579.0,73.5 580.1,75.4 581.3,77.2 582.4,79.0 583.5,80.8 584.6,82.5 585.7,84.1 586.7,85.7 587.8,87.2 588.8,88.7 589.8,90.0 590.8,91.4 591.8,92.6 592.8,93.8 593.7,94.9 594.7,95.9 595.6,96.9 596.6,97.8 597.5,98.7 598.4,99.5 599.3,100.3 600.2,101.0 601.1,101.7 601.9,102.3 602.8,102.9 603.7,103.5 604.5,104.0 605.3,104.5 606.2,105.0 607.0,105.5 607.8,105.9 608.6,106.3 609.4,106.7 610.2,107.1 611.0,107.4 611.8,107.8 612.6,108.1 613.3,108.5 614.1,108.8 614.9,109.1 615.6,109.5 616.4,109.8 617.1,110.1 617.8,110.5 618.6,110.8 619.3,111.1 620.0,111.5 620.7,111.8 621.4,112.2 622.1,112.5 622.8,112.9 623.5,113.3 624.2,113.6 624.9,114.0 625.6,114.4 626.2,114.8 626.9,115.2 627.6,115.5 628.2,115.9 628.9,116.4 629.5,116.8 630.2,117.2 630.8,117.6 631.4,118.0 632.1,118.5 632.7,118.9 633.3,119.4 633.9,119.8 634.6,120.3 635.2,120.8 635.8,121.3 636.4,121.8 637.0,122.3 637.6,122.8 638.2,123.3 638.7,123.9 639.3,124.4 639.9,124.9 640.5,125.5 641.1,126.1 641.6,126.6 642.2,127.2 642.8,127.8 643.3,128.4 643.9,129.0 644.4,129.6 645.0,130.3 645.5,130.9 646.0,131.5 646.6,132.2 647.1,132.8 647.6,133.4 648.2,134.1 648.7,134.7 649.2,135.4 649.7,136.0 650.2,136.6 650.7,137.3 651.2,137.9 651.7,138.6 652.2,139.2 652.7,139.8 653.2,140.5 653.7,141.1 654.2,141.7 654.7,142.3 655.1,143.0 655.6,143.6 656.1,144.2 656.6,144.8 657.0,145.4 657.5,145.9 657.9,146.5 658.4,147.1 658.8,147.7 659.3,148.3 659.7,148.8 660.2,149.4 660.6,149.9 661.0,150.5 661.5,151.0 661.9,151.6 662.3,152.1 662.7,152.6 663.1,153.2 663.6,153.7 664.0,154.2 664.4,154.7 664.8,155.2 665.2,155.8 665.6,156.3 666.0,156.8 666.4,157.3 666.8,157.7 667.1,158.2 667.5,158.7 667.9,159.2 668.3,159.7 668.6,160.1 669.0,160.6 669.4,161.1 669.7,161.5 670.1,162.0 670.5,162.4 670.8,162.9 671.2,163.3 671.5,163.8" stroke="#008000" stroke-width="2.9" fill="none" stroke-linejoin="round" stroke-linecap="butt" marker-start="url(#og)" marker-mid="url(#og)" marker-end="url(#og)"/>
<path d="M418.0,213.5 445.2,212.8 461.3,212.2 472.7,211.6 481.7,211.0 489.1,210.4 495.4,209.7 500.9,208.9 505.7,207.9 510.1,206.9 514.1,205.7 517.8,204.5 521.2,203.3 524.4,201.9 527.3,200.5 530.1,199.1 532.8,197.7 535.3,196.2 537.7,194.7 540.0,193.3 542.2,191.8 544.3,190.4 546.3,189.0 548.3,187.7 550.2,186.3 552.0,185.0 553.7,183.8 555.5,182.5 557.1,181.3 558.7,180.1 560.3,179.0 561.8,177.9 563.3,176.8 564.8,175.8 566.2,174.8 567.6,173.9 569.0,172.9 570.3,172.0 571.6,171.2 572.9,170.4 574.2,169.6 575.4,168.8 576.6,168.1 577.8,167.4 579.0,166.7 580.1,166.1 581.3,165.5 582.4,164.9 583.5,164.4 584.6,163.9 585.7,163.4 586.7,162.9 587.8,162.4 588.8,162.0 589.8,161.6 590.8,161.2 591.8,160.8 592.8,160.4 593.7,160.1 594.7,159.7 595.6,159.4 596.6,159.1 597.5,158.8 598.4,158.6 599.3,158.3 600.2,158.1 601.1,157.8 601.9,157.6 602.8,157.4 603.7,157.2 604.5,157.1 605.3,156.9 606.2,156.8 607.0,156.6 607.8,156.5 608.6,156.4 609.4,156.3 610.2,156.2 611.0,156.2 611.8,156.1 612.6,156.1 613.3,156.0 614.1,156.0 614.9,156.0 615.6,156.0 616.4,156.0 617.1,156.0 617.8,156.1 618.6,156.1 619.3,156.2 620.0,156.3 620.7,156.3 621.4,156.4 622.1,156.5 622.8,156.7 623.5,156.8 624.2,156.9 624.9,157.0 625.6,157.2 626.2,157.3 626.9,157.5 627.6,157.7 628.2,157.8 628.9,158.0 629.5,158.2 630.2,158.4 630.8,158.6 631.4,158.8 632.1,159.0 632.7,159.2 633.3,159.4 633.9,159.6 634.6,159.8 635.2,160.0 635.8,160.2 636.4,160.4 637.0,160.6 637.6,160.8 638.2,161.1 638.7,161.3 639.3,161.5 639.9,161.7 640.5,162.0 641.1,162.2 641.6,162.4 642.2,162.6 642.8,162.8 643.3,163.1 643.9,163.3 644.4,163.5 645.0,163.7 645.5,163.9 646.0,164.1 646.6,164.4 647.1,164.6 647.6,164.8 648.2,165.0 648.7,165.2 649.2,165.4 649.7,165.6 650.2,165.8 650.7,166.0 651.2,166.2 651.7,166.4 652.2,166.6 652.7,166.8 653.2,167.0 653.7,167.2 654.2,167.4 654.7,167.6 655.1,167.8 655.6,168.0 656.1,168.1 656.6,168.3 657.0,168.5 657.5,168.7 657.9,168.9 658.4,169.0 658.8,169.2 659.3,169.4 659.7,169.6 660.2,169.7 660.6,169.9 661.0,170.1 661.5,170.3 661.9,170.4 662.3,170.6 662.7,170.8 663.1,170.9 663.6,171.1 664.0,171.3 664.4,171.4 664.8,171.6 665.2,171.7 665.6,171.9 666.0,172.0 666.4,172.2 666.8,172.3 667.1,172.5 667.5,172.6 667.9,172.8 668.3,172.9 668.6,173.1 669.0,173.2 669.4,173.4 669.7,173.5 670.1,173.7 670.5,173.8 670.8,173.9 671.2,174.1 671.5,174.2" stroke="#008000" stroke-width="2.9" fill="none" stroke-linejoin="round" stroke-linecap="butt" marker-start="url(#sg)" marker-mid="url(#sg)" marker-end="url(#sg)"/>
<path d="M418.0,210.1 445.2,201.2 461.3,195.9 472.7,191.6 481.7,187.2 489.1,183.0 495.4,179.3 500.9,176.1 505.7,173.2 510.1,170.7 514.1,168.3 517.8,166.2 521.2,164.1 524.4,162.1 527.3,160.2 530.1,158.4 532.8,156.7 535.3,155.0 537.7,153.5 540.0,152.1 542.2,150.7 544.3,149.4 546.3,148.3 548.3,147.2 550.2,146.1 552.0,145.1 553.7,144.2 555.5,143.3 557.1,142.5 558.7,141.7 560.3,141.0 561.8,140.3 563.3,139.6 564.8,139.0 566.2,138.4 567.6,137.8 569.0,137.3 570.3,136.8 571.6,136.4 572.9,135.9 574.2,135.6 575.4,135.2 576.6,134.9 577.8,134.7 579.0,134.4 580.1,134.2 581.3,134.0 582.4,133.8 583.5,133.7 584.6,133.6 585.7,133.5 586.7,133.4 587.8,133.3 588.8,133.3 589.8,133.3 590.8,133.3 591.8,133.3 592.8,133.3 593.7,133.3 594.7,133.4 595.6,133.5 596.6,133.5 597.5,133.6 598.4,133.7 599.3,133.8 600.2,134.0 601.1,134.1 601.9,134.2 602.8,134.3 603.7,134.5 604.5,134.6 605.3,134.8 606.2,135.0 607.0,135.1 607.8,135.3 608.6,135.5 609.4,135.7 610.2,135.9 611.0,136.1 611.8,136.3 612.6,136.5 613.3,136.7 614.1,137.0 614.9,137.2 615.6,137.4 616.4,137.6 617.1,137.9 617.8,138.1 618.6,138.4 619.3,138.6 620.0,138.9 620.7,139.1 621.4,139.4 622.1,139.6 622.8,139.9 623.5,140.1 624.2,140.4 624.9,140.7 625.6,140.9 626.2,141.2 626.9,141.4 627.6,141.7 628.2,142.0 628.9,142.3 629.5,142.5 630.2,142.8 630.8,143.1 631.4,143.4 632.1,143.7 632.7,143.9 633.3,144.2 633.9,144.5 634.6,144.8 635.2,145.1 635.8,145.4 636.4,145.8 637.0,146.1 637.6,146.4 638.2,146.7 638.7,147.0 639.3,147.4 639.9,147.7 640.5,148.0 641.1,148.4 641.6,148.7 642.2,149.1 642.8,149.4 643.3,149.8 643.9,150.1 644.4,150.5 645.0,150.9 645.5,151.3 646.0,151.6 646.6,152.0 647.1,152.4 647.6,152.8 648.2,153.2 648.7,153.6 649.2,154.0 649.7,154.4 650.2,154.8 650.7,155.3 651.2,155.7 651.7,156.1 652.2,156.5 652.7,157.0 653.2,157.4 653.7,157.9 654.2,158.3 654.7,158.8 655.1,159.2 655.6,159.7 656.1,160.1 656.6,160.6 657.0,161.0 657.5,161.5 657.9,161.9 658.4,162.4 658.8,162.9 659.3,163.3 659.7,163.8 660.2,164.2 660.6,164.6 661.0,165.1 661.5,165.5 661.9,165.9 662.3,166.3 662.7,166.7 663.1,167.1 663.6,167.5 664.0,167.9 664.4,168.3 664.8,168.6 665.2,168.9 665.6,169.3 666.0,169.6 666.4,169.9 666.8,170.2 667.1,170.4 667.5,170.7 667.9,171.0 668.3,171.2 668.6,171.5 669.0,171.7 669.4,171.9 669.7,172.1 670.1,172.4 670.5,172.6 670.8,172.8 671.2,173.0 671.5,173.2" stroke="#008000" stroke-width="2.9" fill="none" stroke-linejoin="round" stroke-linecap="butt" marker-start="url(#xg)" marker-mid="url(#xg)" marker-end="url(#xg)"/>
<path d="M418.0,200.8 445.2,187.8 461.3,173.5 472.7,158.7 481.7,144.5 489.1,131.3 495.4,118.6 500.9,106.6 505.7,95.5 510.1,85.4 514.1,76.5 517.8,68.6 521.2,61.7 524.4,55.8 527.3,50.7 530.1,46.4 532.8,42.6 535.3,39.3 537.7,36.6 540.0,34.3 542.2,32.6 544.3,31.4 546.3,30.5 548.3,30.2 550.2,30.2 552.0,30.6 553.7,31.3 555.5,32.2 557.1,33.3 558.7,34.6 560.3,36.0 561.8,37.5 563.3,39.2 564.8,40.9 566.2,42.6 567.6,44.4 569.0,46.2 570.3,48.0 571.6,49.7 572.9,51.5 574.2,53.3 575.4,55.1 576.6,56.9 577.8,58.6 579.0,60.4 580.1,62.1 581.3,63.8 582.4,65.5 583.5,67.2 584.6,68.9 585.7,70.5 586.7,72.1 587.8,73.7 588.8,75.3 589.8,76.9 590.8,78.4 591.8,79.9 592.8,81.4 593.7,82.8 594.7,84.3 595.6,85.6 596.6,87.0 597.5,88.3 598.4,89.5 599.3,90.8 600.2,91.9 601.1,93.1 601.9,94.2 602.8,95.2 603.7,96.2 604.5,97.2 605.3,98.1 606.2,99.0 607.0,99.9 607.8,100.7 608.6,101.4 609.4,102.2 610.2,102.9 611.0,103.5 611.8,104.2 612.6,104.8 613.3,105.4 614.1,106.0 614.9,106.5 615.6,107.0 616.4,107.6 617.1,108.0 617.8,108.5 618.6,109.0 619.3,109.4 620.0,109.9 620.7,110.3 621.4,110.8 622.1,111.2 622.8,111.6 623.5,112.0 624.2,112.4 624.9,112.8 625.6,113.3 626.2,113.7 626.9,114.1 627.6,114.5 628.2,114.9 628.9,115.4 629.5,115.8 630.2,116.2 630.8,116.7 631.4,117.1 632.1,117.5 632.7,118.0 633.3,118.5 633.9,118.9 634.6,119.4 635.2,119.9 635.8,120.4 636.4,120.9 637.0,121.4 637.6,122.0 638.2,122.5 638.7,123.1 639.3,123.6 639.9,124.2 640.5,124.8 641.1,125.4 641.6,126.0 642.2,126.6 642.8,127.2 643.3,127.8 643.9,128.5 644.4,129.1 645.0,129.8 645.5,130.5 646.0,131.2 646.6,131.8 647.1,132.5 647.6,133.2 648.2,133.9 648.7,134.6 649.2,135.3 649.7,136.0 650.2,136.6 650.7,137.3 651.2,138.0 651.7,138.7 652.2,139.4 652.7,140.0 653.2,140.7 653.7,141.3 654.2,142.0 654.7,142.6 655.1,143.3 655.6,143.9 656.1,144.5 656.6,145.1 657.0,145.7 657.5,146.3 657.9,146.9 658.4,147.5 658.8,148.1 659.3,148.7 659.7,149.2 660.2,149.8 660.6,150.3 661.0,150.9 661.5,151.4 661.9,152.0 662.3,152.5 662.7,153.0 663.1,153.5 663.6,154.0 664.0,154.6 664.4,155.1 664.8,155.6 665.2,156.1 665.6,156.5 666.0,157.0 666.4,157.5 666.8,158.0 667.1,158.4 667.5,158.9 667.9,159.4 668.3,159.8 668.6,160.3 669.0,160.7 669.4,161.2 669.7,161.6 670.1,162.1 670.5,162.5 670.8,162.9 671.2,163.3 671.5,163.8" stroke="#9400d3" stroke-width="2.9" fill="none" stroke-linejoin="round" stroke-linecap="butt" marker-start="url(#op)" marker-mid="url(#op)" marker-end="url(#op)"/>
<path d="M418.0,213.2 445.2,212.5 461.3,211.8 472.7,211.1 481.7,210.3 489.1,209.5 495.4,208.6 500.9,207.6 505.7,206.4 510.1,205.2 514.1,203.8 517.8,202.4 521.2,200.9 524.4,199.4 527.3,197.7 530.1,196.1 532.8,194.4 535.3,192.7 537.7,191.1 540.0,189.4 542.2,187.8 544.3,186.3 546.3,184.8 548.3,183.3 550.2,181.9 552.0,180.5 553.7,179.2 555.5,177.9 557.1,176.7 558.7,175.5 560.3,174.4 561.8,173.3 563.3,172.3 564.8,171.3 566.2,170.3 567.6,169.4 569.0,168.5 570.3,167.7 571.6,166.8 572.9,166.1 574.2,165.3 575.4,164.6 576.6,163.9 577.8,163.2 579.0,162.6 580.1,162.0 581.3,161.4 582.4,160.8 583.5,160.3 584.6,159.8 585.7,159.3 586.7,158.9 587.8,158.4 588.8,158.0 589.8,157.6 590.8,157.2 591.8,156.9 592.8,156.6 593.7,156.2 594.7,156.0 595.6,155.7 596.6,155.4 597.5,155.2 598.4,155.0 599.3,154.8 600.2,154.6 601.1,154.4 601.9,154.3 602.8,154.2 603.7,154.1 604.5,154.0 605.3,153.9 606.2,153.8 607.0,153.8 607.8,153.8 608.6,153.8 609.4,153.8 610.2,153.8 611.0,153.9 611.8,153.9 612.6,154.0 613.3,154.1 614.1,154.2 614.9,154.3 615.6,154.4 616.4,154.5 617.1,154.7 617.8,154.8 618.6,155.0 619.3,155.1 620.0,155.3 620.7,155.5 621.4,155.7 622.1,155.8 622.8,156.0 623.5,156.2 624.2,156.4 624.9,156.6 625.6,156.8 626.2,157.0 626.9,157.2 627.6,157.4 628.2,157.6 628.9,157.8 629.5,158.1 630.2,158.3 630.8,158.5 631.4,158.7 632.1,158.9 632.7,159.1 633.3,159.4 633.9,159.6 634.6,159.8 635.2,160.0 635.8,160.2 636.4,160.5 637.0,160.7 637.6,160.9 638.2,161.1 638.7,161.3 639.3,161.6 639.9,161.8 640.5,162.0 641.1,162.2 641.6,162.4 642.2,162.7 642.8,162.9 643.3,163.1 643.9,163.3 644.4,163.5 645.0,163.7 645.5,163.9 646.0,164.2 646.6,164.4 647.1,164.6 647.6,164.8 648.2,165.0 648.7,165.2 649.2,165.4 649.7,165.6 650.2,165.8 650.7,166.0 651.2,166.2 651.7,166.4 652.2,166.6 652.7,166.8 653.2,167.0 653.7,167.2 654.2,167.4 654.7,167.5 655.1,167.7 655.6,167.9 656.1,168.1 656.6,168.3 657.0,168.5 657.5,168.7 657.9,168.8 658.4,169.0 658.8,169.2 659.3,169.4 659.7,169.5 660.2,169.7 660.6,169.9 661.0,170.1 661.5,170.2 661.9,170.4 662.3,170.6 662.7,170.7 663.1,170.9 663.6,171.1 664.0,171.2 664.4,171.4 664.8,171.5 665.2,171.7 665.6,171.9 666.0,172.0 666.4,172.2 666.8,172.3 667.1,172.5 667.5,172.6 667.9,172.8 668.3,172.9 668.6,173.1 669.0,173.2 669.4,173.4 669.7,173.5 670.1,173.7 670.5,173.8 670.8,173.9 671.2,174.1 671.5,174.2" stroke="#9400d3" stroke-width="2.9" fill="none" stroke-linejoin="round" stroke-linecap="butt" marker-start="url(#sp)" marker-mid="url(#sp)" marker-end="url(#sp)"/>
<path d="M418.0,207.7 445.2,198.9 461.3,193.7 472.7,189.4 481.7,185.0 489.1,180.9 495.4,177.2 500.9,174.0 505.7,171.2 510.1,168.7 514.1,166.4 517.8,164.2 521.2,162.2 524.4,160.3 527.3,158.4 530.1,156.6 532.8,154.9 535.3,153.3 537.7,151.8 540.0,150.4 542.2,149.1 544.3,147.9 546.3,146.7 548.3,145.6 550.2,144.6 552.0,143.7 553.7,142.8 555.5,142.0 557.1,141.2 558.7,140.4 560.3,139.7 561.8,139.0 563.3,138.4 564.8,137.8 566.2,137.2 567.6,136.7 569.0,136.2 570.3,135.7 571.6,135.3 572.9,134.9 574.2,134.6 575.4,134.3 576.6,134.0 577.8,133.7 579.0,133.5 580.1,133.3 581.3,133.2 582.4,133.0 583.5,132.9 584.6,132.8 585.7,132.7 586.7,132.7 587.8,132.6 588.8,132.6 589.8,132.6 590.8,132.6 591.8,132.7 592.8,132.7 593.7,132.8 594.7,132.9 595.6,132.9 596.6,133.0 597.5,133.1 598.4,133.3 599.3,133.4 600.2,133.5 601.1,133.6 601.9,133.8 602.8,134.0 603.7,134.1 604.5,134.3 605.3,134.5 606.2,134.6 607.0,134.8 607.8,135.0 608.6,135.2 609.4,135.4 610.2,135.6 611.0,135.8 611.8,136.1 612.6,136.3 613.3,136.5 614.1,136.7 614.9,137.0 615.6,137.2 616.4,137.5 617.1,137.7 617.8,138.0 618.6,138.2 619.3,138.5 620.0,138.7 620.7,139.0 621.4,139.2 622.1,139.5 622.8,139.8 623.5,140.0 624.2,140.3 624.9,140.6 625.6,140.8 626.2,141.1 626.9,141.4 627.6,141.6 628.2,141.9 628.9,142.2 629.5,142.5 630.2,142.7 630.8,143.0 631.4,143.3 632.1,143.6 632.7,143.9 633.3,144.2 633.9,144.5 634.6,144.8 635.2,145.1 635.8,145.4 636.4,145.7 637.0,146.0 637.6,146.4 638.2,146.7 638.7,147.0 639.3,147.3 639.9,147.7 640.5,148.0 641.1,148.3 641.6,148.7 642.2,149.0 642.8,149.4 643.3,149.8 643.9,150.1 644.4,150.5 645.0,150.9 645.5,151.2 646.0,151.6 646.6,152.0 647.1,152.4 647.6,152.8 648.2,153.2 648.7,153.6 649.2,154.0 649.7,154.4 650.2,154.8 650.7,155.3 651.2,155.7 651.7,156.1 652.2,156.5 652.7,157.0 653.2,157.4 653.7,157.9 654.2,158.3 654.7,158.8 655.1,159.2 655.6,159.7 656.1,160.1 656.6,160.6 657.0,161.0 657.5,161.5 657.9,161.9 658.4,162.4 658.8,162.8 659.3,163.3 659.7,163.8 660.2,164.2 660.6,164.6 661.0,165.1 661.5,165.5 661.9,165.9 662.3,166.3 662.7,166.7 663.1,167.1 663.6,167.5 664.0,167.9 664.4,168.3 664.8,168.6 665.2,168.9 665.6,169.3 666.0,169.6 666.4,169.9 666.8,170.2 667.1,170.4 667.5,170.7 667.9,171.0 668.3,171.2 668.6,171.5 669.0,171.7 669.4,171.9 669.7,172.1 670.1,172.4 670.5,172.6 670.8,172.8 671.2,173.0 671.5,173.2" stroke="#9400d3" stroke-width="2.9" fill="none" stroke-linejoin="round" stroke-linecap="butt" marker-start="url(#xp)" marker-mid="url(#xp)" marker-end="url(#xp)"/>
<path d="M418.0,198.8 445.2,183.0 461.3,167.1 472.7,150.7 481.7,135.2 489.1,120.7 495.4,107.4 500.9,95.4 505.7,84.8 510.1,75.5 514.1,67.4 517.8,60.3 521.2,54.3 524.4,49.1 527.3,44.8 530.1,41.3 532.8,38.5 535.3,36.2 537.7,34.6 540.0,33.5 542.2,32.8 544.3,32.6 546.3,32.8 548.3,33.4 550.2,34.2 552.0,35.3 553.7,36.6 555.5,38.1 557.1,39.8 558.7,41.5 560.3,43.4 561.8,45.3 563.3,47.3 564.8,49.3 566.2,51.3 567.6,53.4 569.0,55.4 570.3,57.5 571.6,59.5 572.9,61.4 574.2,63.4 575.4,65.3 576.6,67.1 577.8,68.9 579.0,70.6 580.1,72.3 581.3,73.9 582.4,75.4 583.5,76.9 584.6,78.4 585.7,79.7 586.7,81.1 587.8,82.3 588.8,83.6 589.8,84.7 590.8,85.9 591.8,86.9 592.8,87.9 593.7,88.9 594.7,89.8 595.6,90.7 596.6,91.6 597.5,92.4 598.4,93.1 599.3,93.9 600.2,94.6 601.1,95.3 601.9,95.9 602.8,96.5 603.7,97.1 604.5,97.7 605.3,98.3 606.2,98.9 607.0,99.4 607.8,99.9 608.6,100.4 609.4,100.9 610.2,101.4 611.0,101.9 611.8,102.4 612.6,102.8 613.3,103.3 614.1,103.7 614.9,104.2 615.6,104.6 616.4,105.1 617.1,105.5 617.8,106.0 618.6,106.4 619.3,106.8 620.0,107.3 620.7,107.7 621.4,108.2 622.1,108.6 622.8,109.1 623.5,109.5 624.2,110.0 624.9,110.5 625.6,110.9 626.2,111.4 626.9,111.9 627.6,112.3 628.2,112.8 628.9,113.3 629.5,113.8 630.2,114.3 630.8,114.8 631.4,115.3 632.1,115.8 632.7,116.3 633.3,116.8 633.9,117.4 634.6,117.9 635.2,118.4 635.8,118.9 636.4,119.5 637.0,120.0 637.6,120.5 638.2,121.1 638.7,121.6 639.3,122.2 639.9,122.7 640.5,123.3 641.1,123.8 641.6,124.4 642.2,125.0 642.8,125.5 643.3,126.1 643.9,126.7 644.4,127.3 645.0,127.9 645.5,128.5 646.0,129.1 646.6,129.7 647.1,130.4 647.6,131.0 648.2,131.6 648.7,132.3 649.2,132.9 649.7,133.5 650.2,134.2 650.7,134.9 651.2,135.5 651.7,136.2 652.2,136.9 652.7,137.5 653.2,138.2 653.7,138.9 654.2,139.6 654.7,140.2 655.1,140.9 655.6,141.6 656.1,142.3 656.6,143.0 657.0,143.7 657.5,144.3 657.9,145.0 658.4,145.7 658.8,146.4 659.3,147.0 659.7,147.7 660.2,148.4 660.6,149.0 661.0,149.7 661.5,150.3 661.9,151.0 662.3,151.6 662.7,152.2 663.1,152.9 663.6,153.5 664.0,154.1 664.4,154.6 664.8,155.2 665.2,155.8 665.6,156.3 666.0,156.9 666.4,157.4 666.8,157.9 667.1,158.4 667.5,158.9 667.9,159.3 668.3,159.8 668.6,160.2 669.0,160.6 669.4,161.0 669.7,161.4 670.1,161.8 670.5,162.1 670.8,162.5 671.2,162.8 671.5,163.1" stroke="#000" stroke-width="2.9" fill="none" stroke-linejoin="round" stroke-linecap="butt"/>
<path d="M418.0,213.8 445.2,213.0 461.3,211.7 472.7,210.2 481.7,208.6 489.1,206.8 495.4,205.0 500.9,203.4 505.7,201.8 510.1,200.3 514.1,198.9 517.8,197.4 521.2,195.8 524.4,194.2 527.3,192.6 530.1,190.8 532.8,189.1 535.3,187.3 537.7,185.5 540.0,183.8 542.2,182.0 544.3,180.3 546.3,178.6 548.3,177.0 550.2,175.4 552.0,173.8 553.7,172.4 555.5,171.0 557.1,169.7 558.7,168.5 560.3,167.3 561.8,166.2 563.3,165.2 564.8,164.2 566.2,163.2 567.6,162.3 569.0,161.4 570.3,160.6 571.6,159.8 572.9,159.0 574.2,158.3 575.4,157.6 576.6,156.9 577.8,156.3 579.0,155.7 580.1,155.1 581.3,154.5 582.4,154.0 583.5,153.5 584.6,153.0 585.7,152.5 586.7,152.1 587.8,151.7 588.8,151.3 589.8,150.9 590.8,150.6 591.8,150.3 592.8,150.0 593.7,149.8 594.7,149.5 595.6,149.3 596.6,149.1 597.5,149.0 598.4,148.8 599.3,148.7 600.2,148.6 601.1,148.5 601.9,148.4 602.8,148.3 603.7,148.3 604.5,148.3 605.3,148.2 606.2,148.2 607.0,148.2 607.8,148.3 608.6,148.3 609.4,148.3 610.2,148.4 611.0,148.5 611.8,148.5 612.6,148.6 613.3,148.7 614.1,148.8 614.9,149.0 615.6,149.1 616.4,149.2 617.1,149.4 617.8,149.5 618.6,149.7 619.3,149.8 620.0,150.0 620.7,150.2 621.4,150.4 622.1,150.5 622.8,150.7 623.5,150.9 624.2,151.1 624.9,151.3 625.6,151.6 626.2,151.8 626.9,152.0 627.6,152.2 628.2,152.4 628.9,152.7 629.5,152.9 630.2,153.2 630.8,153.4 631.4,153.7 632.1,153.9 632.7,154.2 633.3,154.4 633.9,154.7 634.6,155.0 635.2,155.3 635.8,155.5 636.4,155.8 637.0,156.1 637.6,156.4 638.2,156.7 638.7,157.0 639.3,157.3 639.9,157.6 640.5,157.9 641.1,158.2 641.6,158.5 642.2,158.9 642.8,159.2 643.3,159.5 643.9,159.8 644.4,160.1 645.0,160.4 645.5,160.8 646.0,161.1 646.6,161.4 647.1,161.7 647.6,162.1 648.2,162.4 648.7,162.7 649.2,163.0 649.7,163.3 650.2,163.6 650.7,164.0 651.2,164.3 651.7,164.6 652.2,164.9 652.7,165.2 653.2,165.5 653.7,165.8 654.2,166.1 654.7,166.3 655.1,166.6 655.6,166.9 656.1,167.2 656.6,167.4 657.0,167.7 657.5,167.9 657.9,168.2 658.4,168.4 658.8,168.6 659.3,168.9 659.7,169.1 660.2,169.3 660.6,169.5 661.0,169.7 661.5,169.9 661.9,170.0 662.3,170.2 662.7,170.4 663.1,170.5 663.6,170.7 664.0,170.8 664.4,171.0 664.8,171.1 665.2,171.2 665.6,171.4 666.0,171.5 666.4,171.6 666.8,171.7 667.1,171.8 667.5,171.9 667.9,172.0 668.3,172.1 668.6,172.1 669.0,172.2 669.4,172.3 669.7,172.4 670.1,172.4 670.5,172.5 670.8,172.6 671.2,172.6 671.5,172.7" stroke="#000" stroke-width="2.9" fill="none" stroke-linejoin="round" stroke-linecap="butt"/>
<path d="M418.0,205.2 445.2,197.9 461.3,190.7 472.7,184.6 481.7,179.3 489.1,174.5 495.4,170.3 500.9,166.6 505.7,163.3 510.1,160.4 514.1,157.7 517.8,155.3 521.2,153.0 524.4,150.9 527.3,148.9 530.1,147.0 532.8,145.3 535.3,143.6 537.7,142.1 540.0,140.7 542.2,139.4 544.3,138.1 546.3,137.0 548.3,135.9 550.2,135.0 552.0,134.1 553.7,133.3 555.5,132.6 557.1,131.9 558.7,131.3 560.3,130.8 561.8,130.4 563.3,130.0 564.8,129.6 566.2,129.3 567.6,129.0 569.0,128.8 570.3,128.6 571.6,128.4 572.9,128.3 574.2,128.1 575.4,128.0 576.6,128.0 577.8,127.9 579.0,127.8 580.1,127.8 581.3,127.8 582.4,127.8 583.5,127.8 584.6,127.8 585.7,127.9 586.7,127.9 587.8,128.0 588.8,128.0 589.8,128.1 590.8,128.2 591.8,128.3 592.8,128.4 593.7,128.5 594.7,128.7 595.6,128.8 596.6,128.9 597.5,129.1 598.4,129.3 599.3,129.4 600.2,129.6 601.1,129.8 601.9,130.0 602.8,130.2 603.7,130.4 604.5,130.6 605.3,130.8 606.2,131.1 607.0,131.3 607.8,131.6 608.6,131.8 609.4,132.0 610.2,132.3 611.0,132.6 611.8,132.8 612.6,133.1 613.3,133.4 614.1,133.6 614.9,133.9 615.6,134.2 616.4,134.5 617.1,134.8 617.8,135.0 618.6,135.3 619.3,135.6 620.0,135.9 620.7,136.2 621.4,136.5 622.1,136.8 622.8,137.1 623.5,137.4 624.2,137.8 624.9,138.1 625.6,138.4 626.2,138.7 626.9,139.0 627.6,139.3 628.2,139.7 628.9,140.0 629.5,140.3 630.2,140.7 630.8,141.0 631.4,141.3 632.1,141.7 632.7,142.0 633.3,142.4 633.9,142.7 634.6,143.1 635.2,143.4 635.8,143.8 636.4,144.2 637.0,144.5 637.6,144.9 638.2,145.3 638.7,145.7 639.3,146.0 639.9,146.4 640.5,146.8 641.1,147.2 641.6,147.6 642.2,148.0 642.8,148.4 643.3,148.8 643.9,149.2 644.4,149.6 645.0,150.0 645.5,150.5 646.0,150.9 646.6,151.3 647.1,151.7 647.6,152.2 648.2,152.6 648.7,153.0 649.2,153.5 649.7,153.9 650.2,154.4 650.7,154.8 651.2,155.3 651.7,155.7 652.2,156.2 652.7,156.6 653.2,157.1 653.7,157.5 654.2,158.0 654.7,158.4 655.1,158.9 655.6,159.3 656.1,159.8 656.6,160.3 657.0,160.7 657.5,161.2 657.9,161.6 658.4,162.1 658.8,162.5 659.3,163.0 659.7,163.4 660.2,163.9 660.6,164.3 661.0,164.8 661.5,165.2 661.9,165.6 662.3,166.0 662.7,166.4 663.1,166.8 663.6,167.2 664.0,167.6 664.4,167.9 664.8,168.3 665.2,168.6 665.6,168.9 666.0,169.2 666.4,169.5 666.8,169.8 667.1,170.1 667.5,170.3 667.9,170.6 668.3,170.8 668.6,171.1 669.0,171.3 669.4,171.5 669.7,171.8 670.1,172.0 670.5,172.2 670.8,172.4 671.2,172.6 671.5,172.8" stroke="#000" stroke-width="2.9" fill="none" stroke-linejoin="round" stroke-linecap="butt"/>
<path d="M418.0,495.4 445.2,485.3 461.3,476.2 472.7,468.2 481.7,461.0 489.1,454.2 495.4,447.4 500.9,440.9 505.7,434.4 510.1,428.2 514.1,422.1 517.8,416.2 521.2,410.6 524.4,405.4 527.3,400.7 530.1,396.5 532.8,392.8 535.3,389.6 537.7,386.8 540.0,384.4 542.2,382.4 544.3,380.7 546.3,379.3 548.3,378.2 550.2,377.2 552.0,376.5 553.7,376.0 555.5,375.6 557.1,375.4 558.7,375.3 560.3,375.4 561.8,375.5 563.3,375.8 564.8,376.1 566.2,376.6 567.6,377.0 569.0,377.6 570.3,378.1 571.6,378.7 572.9,379.4 574.2,380.0 575.4,380.7 576.6,381.4 577.8,382.1 579.0,382.8 580.1,383.5 581.3,384.2 582.4,384.9 583.5,385.5 584.6,386.2 585.7,386.9 586.7,387.5 587.8,388.2 588.8,388.8 589.8,389.4 590.8,390.0 591.8,390.6 592.8,391.2 593.7,391.7 594.7,392.3 595.6,392.8 596.6,393.4 597.5,393.9 598.4,394.4 599.3,394.9 600.2,395.4 601.1,395.8 601.9,396.3 602.8,396.8 603.7,397.2 604.5,397.6 605.3,398.0 606.2,398.4 607.0,398.9 607.8,399.2 608.6,399.6 609.4,400.0 610.2,400.4 611.0,400.7 611.8,401.1 612.6,401.4 613.3,401.8 614.1,402.1 614.9,402.5 615.6,402.8 616.4,403.1 617.1,403.4 617.8,403.7 618.6,404.0 619.3,404.3 620.0,404.6 620.7,404.9 621.4,405.3 622.1,405.6 622.8,405.9 623.5,406.2 624.2,406.5 624.9,406.8 625.6,407.1 626.2,407.5 626.9,407.8 627.6,408.2 628.2,408.5 628.9,408.9 629.5,409.2 630.2,409.6 630.8,410.0 631.4,410.4 632.1,410.8 632.7,411.2 633.3,411.7 633.9,412.1 634.6,412.6 635.2,413.0 635.8,413.5 636.4,413.9 637.0,414.4 637.6,414.9 638.2,415.4 638.7,415.9 639.3,416.4 639.9,416.9 640.5,417.4 641.1,417.9 641.6,418.5 642.2,419.0 642.8,419.5 643.3,420.1 643.9,420.6 644.4,421.2 645.0,421.7 645.5,422.3 646.0,422.8 646.6,423.4 647.1,424.0 647.6,424.5 648.2,425.1 648.7,425.7 649.2,426.3 649.7,426.8 650.2,427.4 650.7,428.0 651.2,428.6 651.7,429.2 652.2,429.8 652.7,430.4 653.2,431.0 653.7,431.6 654.2,432.2 654.7,432.8 655.1,433.4 655.6,434.0 656.1,434.7 656.6,435.3 657.0,435.9 657.5,436.5 657.9,437.1 658.4,437.7 658.8,438.3 659.3,438.9 659.7,439.5 660.2,440.1 660.6,440.7 661.0,441.3 661.5,441.9 661.9,442.4 662.3,443.0 662.7,443.6 663.1,444.2 663.6,444.7 664.0,445.3 664.4,445.8 664.8,446.4 665.2,446.9 665.6,447.5 666.0,448.0 666.4,448.5 666.8,449.0 667.1,449.5 667.5,450.0 667.9,450.5 668.3,450.9 668.6,451.4 669.0,451.8 669.4,452.2 669.7,452.6 670.1,453.0 670.5,453.4 670.8,453.7 671.2,454.1 671.5,454.5" stroke="#0000ff" stroke-width="2.9" fill="none" stroke-linejoin="round" stroke-linecap="butt" marker-start="url(#ob)" marker-mid="url(#ob)" marker-end="url(#ob)"/>
<path d="M418.0,503.2 445.2,502.9 461.3,502.2 472.7,501.3 481.7,500.2 489.1,499.1 495.4,497.9 500.9,496.7 505.7,495.5 510.1,494.2 514.1,492.9 517.8,491.6 521.2,490.3 524.4,488.9 527.3,487.5 530.1,486.0 532.8,484.6 535.3,483.1 537.7,481.7 540.0,480.4 542.2,479.0 544.3,477.7 546.3,476.4 548.3,475.2 550.2,474.0 552.0,472.9 553.7,471.8 555.5,470.7 557.1,469.7 558.7,468.7 560.3,467.8 561.8,466.9 563.3,466.0 564.8,465.2 566.2,464.4 567.6,463.6 569.0,462.8 570.3,462.1 571.6,461.4 572.9,460.7 574.2,460.0 575.4,459.3 576.6,458.7 577.8,458.1 579.0,457.5 580.1,456.9 581.3,456.3 582.4,455.8 583.5,455.2 584.6,454.7 585.7,454.2 586.7,453.7 587.8,453.3 588.8,452.8 589.8,452.4 590.8,452.0 591.8,451.6 592.8,451.2 593.7,450.8 594.7,450.4 595.6,450.1 596.6,449.8 597.5,449.5 598.4,449.2 599.3,448.9 600.2,448.6 601.1,448.4 601.9,448.2 602.8,447.9 603.7,447.7 604.5,447.6 605.3,447.4 606.2,447.2 607.0,447.1 607.8,446.9 608.6,446.8 609.4,446.7 610.2,446.6 611.0,446.5 611.8,446.4 612.6,446.4 613.3,446.3 614.1,446.3 614.9,446.2 615.6,446.2 616.4,446.2 617.1,446.2 617.8,446.2 618.6,446.3 619.3,446.3 620.0,446.3 620.7,446.4 621.4,446.4 622.1,446.5 622.8,446.6 623.5,446.7 624.2,446.8 624.9,446.9 625.6,447.0 626.2,447.1 626.9,447.2 627.6,447.3 628.2,447.5 628.9,447.6 629.5,447.8 630.2,447.9 630.8,448.1 631.4,448.2 632.1,448.4 632.7,448.6 633.3,448.8 633.9,449.0 634.6,449.2 635.2,449.4 635.8,449.6 636.4,449.8 637.0,450.0 637.6,450.2 638.2,450.4 638.7,450.6 639.3,450.8 639.9,451.0 640.5,451.3 641.1,451.5 641.6,451.7 642.2,451.9 642.8,452.2 643.3,452.4 643.9,452.6 644.4,452.9 645.0,453.1 645.5,453.3 646.0,453.6 646.6,453.8 647.1,454.0 647.6,454.3 648.2,454.5 648.7,454.7 649.2,455.0 649.7,455.2 650.2,455.4 650.7,455.7 651.2,455.9 651.7,456.1 652.2,456.3 652.7,456.6 653.2,456.8 653.7,457.0 654.2,457.2 654.7,457.5 655.1,457.7 655.6,457.9 656.1,458.1 656.6,458.3 657.0,458.5 657.5,458.7 657.9,458.9 658.4,459.1 658.8,459.3 659.3,459.5 659.7,459.7 660.2,459.9 660.6,460.1 661.0,460.3 661.5,460.5 661.9,460.7 662.3,460.8 662.7,461.0 663.1,461.2 663.6,461.4 664.0,461.5 664.4,461.7 664.8,461.9 665.2,462.0 665.6,462.2 666.0,462.4 666.4,462.5 666.8,462.7 667.1,462.8 667.5,463.0 667.9,463.1 668.3,463.3 668.6,463.4 669.0,463.6 669.4,463.7 669.7,463.9 670.1,464.0 670.5,464.2 670.8,464.3 671.2,464.4 671.5,464.6" stroke="#0000ff" stroke-width="2.9" fill="none" stroke-linejoin="round" stroke-linecap="butt" marker-start="url(#sb)" marker-mid="url(#sb)" marker-end="url(#sb)"/>
<path d="M418.0,499.1 445.2,492.4 461.3,488.4 472.7,485.2 481.7,482.2 489.1,479.3 495.4,476.6 500.9,474.0 505.7,471.7 510.1,469.5 514.1,467.5 517.8,465.5 521.2,463.6 524.4,461.8 527.3,459.9 530.1,458.2 532.8,456.4 535.3,454.8 537.7,453.2 540.0,451.6 542.2,450.2 544.3,448.8 546.3,447.5 548.3,446.3 550.2,445.1 552.0,444.1 553.7,443.1 555.5,442.2 557.1,441.3 558.7,440.5 560.3,439.8 561.8,439.2 563.3,438.5 564.8,438.0 566.2,437.4 567.6,436.9 569.0,436.4 570.3,435.9 571.6,435.4 572.9,435.0 574.2,434.6 575.4,434.2 576.6,433.8 577.8,433.4 579.0,433.1 580.1,432.8 581.3,432.5 582.4,432.2 583.5,431.9 584.6,431.7 585.7,431.5 586.7,431.3 587.8,431.1 588.8,430.9 589.8,430.8 590.8,430.7 591.8,430.6 592.8,430.5 593.7,430.4 594.7,430.4 595.6,430.4 596.6,430.4 597.5,430.4 598.4,430.4 599.3,430.4 600.2,430.5 601.1,430.5 601.9,430.6 602.8,430.7 603.7,430.8 604.5,430.9 605.3,431.0 606.2,431.1 607.0,431.2 607.8,431.3 608.6,431.4 609.4,431.5 610.2,431.7 611.0,431.8 611.8,431.9 612.6,432.0 613.3,432.2 614.1,432.3 614.9,432.4 615.6,432.5 616.4,432.7 617.1,432.8 617.8,432.9 618.6,433.1 619.3,433.2 620.0,433.4 620.7,433.5 621.4,433.7 622.1,433.8 622.8,434.0 623.5,434.1 624.2,434.3 624.9,434.5 625.6,434.6 626.2,434.8 626.9,435.0 627.6,435.2 628.2,435.4 628.9,435.6 629.5,435.8 630.2,436.0 630.8,436.2 631.4,436.4 632.1,436.6 632.7,436.8 633.3,437.0 633.9,437.3 634.6,437.5 635.2,437.7 635.8,438.0 636.4,438.2 637.0,438.5 637.6,438.7 638.2,439.0 638.7,439.3 639.3,439.6 639.9,439.8 640.5,440.1 641.1,440.4 641.6,440.7 642.2,441.0 642.8,441.3 643.3,441.6 643.9,442.0 644.4,442.3 645.0,442.6 645.5,442.9 646.0,443.3 646.6,443.6 647.1,444.0 647.6,444.3 648.2,444.7 648.7,445.1 649.2,445.4 649.7,445.8 650.2,446.2 650.7,446.6 651.2,447.0 651.7,447.4 652.2,447.8 652.7,448.2 653.2,448.6 653.7,449.0 654.2,449.4 654.7,449.9 655.1,450.3 655.6,450.7 656.1,451.1 656.6,451.5 657.0,452.0 657.5,452.4 657.9,452.8 658.4,453.2 658.8,453.6 659.3,454.0 659.7,454.4 660.2,454.8 660.6,455.2 661.0,455.6 661.5,456.0 661.9,456.4 662.3,456.8 662.7,457.1 663.1,457.5 663.6,457.9 664.0,458.2 664.4,458.6 664.8,458.9 665.2,459.3 665.6,459.6 666.0,459.9 666.4,460.3 666.8,460.6 667.1,460.9 667.5,461.2 667.9,461.5 668.3,461.8 668.6,462.0 669.0,462.3 669.4,462.6 669.7,462.8 670.1,463.1 670.5,463.3 670.8,463.6 671.2,463.8 671.5,464.1" stroke="#0000ff" stroke-width="2.9" fill="none" stroke-linejoin="round" stroke-linecap="butt" marker-start="url(#xb)" marker-mid="url(#xb)" marker-end="url(#xb)"/>
<path d="M418.0,486.8 445.2,470.8 461.3,454.2 472.7,437.0 481.7,420.7 489.1,405.6 495.4,392.0 500.9,380.0 505.7,369.6 510.1,360.5 514.1,352.7 517.8,345.9 521.2,340.2 524.4,335.4 527.3,331.4 530.1,328.2 532.8,325.6 535.3,323.6 537.7,322.1 540.0,321.2 542.2,320.7 544.3,320.6 546.3,321.0 548.3,321.7 550.2,322.6 552.0,323.8 553.7,325.2 555.5,326.8 557.1,328.5 558.7,330.4 560.3,332.3 561.8,334.3 563.3,336.4 564.8,338.5 566.2,340.6 567.6,342.7 569.0,344.8 570.3,346.9 571.6,349.0 572.9,351.0 574.2,353.0 575.4,354.9 576.6,356.8 577.8,358.7 579.0,360.4 580.1,362.1 581.3,363.8 582.4,365.4 583.5,366.9 584.6,368.4 585.7,369.8 586.7,371.2 587.8,372.5 588.8,373.7 589.8,374.9 590.8,376.1 591.8,377.2 592.8,378.2 593.7,379.2 594.7,380.1 595.6,381.0 596.6,381.9 597.5,382.7 598.4,383.5 599.3,384.3 600.2,385.0 601.1,385.7 601.9,386.4 602.8,387.0 603.7,387.6 604.5,388.2 605.3,388.8 606.2,389.4 607.0,389.9 607.8,390.5 608.6,391.0 609.4,391.5 610.2,392.0 611.0,392.5 611.8,393.0 612.6,393.5 613.3,393.9 614.1,394.4 614.9,394.9 615.6,395.3 616.4,395.8 617.1,396.2 617.8,396.7 618.6,397.1 619.3,397.6 620.0,398.0 620.7,398.4 621.4,398.9 622.1,399.3 622.8,399.8 623.5,400.2 624.2,400.7 624.9,401.1 625.6,401.6 626.2,402.1 626.9,402.5 627.6,403.0 628.2,403.5 628.9,404.0 629.5,404.4 630.2,404.9 630.8,405.4 631.4,405.9 632.1,406.4 632.7,406.9 633.3,407.4 633.9,407.9 634.6,408.4 635.2,408.9 635.8,409.4 636.4,410.0 637.0,410.5 637.6,411.0 638.2,411.5 638.7,412.1 639.3,412.6 639.9,413.1 640.5,413.7 641.1,414.2 641.6,414.8 642.2,415.4 642.8,415.9 643.3,416.5 643.9,417.1 644.4,417.6 645.0,418.2 645.5,418.8 646.0,419.4 646.6,420.0 647.1,420.6 647.6,421.3 648.2,421.9 648.7,422.5 649.2,423.1 649.7,423.8 650.2,424.4 650.7,425.1 651.2,425.7 651.7,426.4 652.2,427.1 652.7,427.7 653.2,428.4 653.7,429.1 654.2,429.7 654.7,430.4 655.1,431.1 655.6,431.8 656.1,432.4 656.6,433.1 657.0,433.8 657.5,434.5 657.9,435.1 658.4,435.8 658.8,436.5 659.3,437.2 659.7,437.8 660.2,438.5 660.6,439.1 661.0,439.8 661.5,440.4 661.9,441.1 662.3,441.7 662.7,442.3 663.1,442.9 663.6,443.5 664.0,444.1 664.4,444.7 664.8,445.3 665.2,445.9 665.6,446.4 666.0,446.9 666.4,447.5 666.8,448.0 667.1,448.5 667.5,448.9 667.9,449.4 668.3,449.8 668.6,450.3 669.0,450.7 669.4,451.1 669.7,451.4 670.1,451.8 670.5,452.2 670.8,452.5 671.2,452.9 671.5,453.2" stroke="#008080" stroke-width="2.9" fill="none" stroke-linejoin="round" stroke-linecap="butt" marker-start="url(#ot)" marker-mid="url(#ot)" marker-end="url(#ot)"/>
<path d="M418.0,503.8 445.2,503.0 461.3,501.6 472.7,500.1 481.7,498.3 489.1,496.4 495.4,494.5 500.9,492.7 505.7,491.0 510.1,489.3 514.1,487.7 517.8,486.0 521.2,484.4 524.4,482.6 527.3,480.8 530.1,478.9 532.8,477.0 535.3,475.1 537.7,473.2 540.0,471.3 542.2,469.5 544.3,467.6 546.3,465.8 548.3,464.1 550.2,462.4 552.0,460.8 553.7,459.3 555.5,457.9 557.1,456.5 558.7,455.3 560.3,454.1 561.8,452.9 563.3,451.8 564.8,450.8 566.2,449.8 567.6,448.9 569.0,448.0 570.3,447.2 571.6,446.4 572.9,445.6 574.2,444.9 575.4,444.2 576.6,443.6 577.8,442.9 579.0,442.3 580.1,441.8 581.3,441.2 582.4,440.7 583.5,440.2 584.6,439.8 585.7,439.4 586.7,439.0 587.8,438.6 588.8,438.3 589.8,437.9 590.8,437.7 591.8,437.4 592.8,437.2 593.7,436.9 594.7,436.8 595.6,436.6 596.6,436.4 597.5,436.3 598.4,436.2 599.3,436.1 600.2,436.0 601.1,436.0 601.9,436.0 602.8,435.9 603.7,435.9 604.5,435.9 605.3,436.0 606.2,436.0 607.0,436.1 607.8,436.1 608.6,436.2 609.4,436.3 610.2,436.4 611.0,436.5 611.8,436.6 612.6,436.8 613.3,436.9 614.1,437.0 614.9,437.2 615.6,437.4 616.4,437.5 617.1,437.7 617.8,437.9 618.6,438.1 619.3,438.3 620.0,438.5 620.7,438.7 621.4,438.9 622.1,439.1 622.8,439.4 623.5,439.6 624.2,439.8 624.9,440.1 625.6,440.3 626.2,440.6 626.9,440.8 627.6,441.1 628.2,441.3 628.9,441.6 629.5,441.8 630.2,442.1 630.8,442.4 631.4,442.7 632.1,442.9 632.7,443.2 633.3,443.5 633.9,443.8 634.6,444.1 635.2,444.4 635.8,444.7 636.4,445.0 637.0,445.3 637.6,445.6 638.2,445.9 638.7,446.3 639.3,446.6 639.9,446.9 640.5,447.2 641.1,447.6 641.6,447.9 642.2,448.2 642.8,448.5 643.3,448.9 643.9,449.2 644.4,449.5 645.0,449.9 645.5,450.2 646.0,450.5 646.6,450.9 647.1,451.2 647.6,451.6 648.2,451.9 648.7,452.2 649.2,452.6 649.7,452.9 650.2,453.2 650.7,453.5 651.2,453.9 651.7,454.2 652.2,454.5 652.7,454.8 653.2,455.1 653.7,455.4 654.2,455.7 654.7,456.0 655.1,456.3 655.6,456.6 656.1,456.8 656.6,457.1 657.0,457.4 657.5,457.6 657.9,457.9 658.4,458.1 658.8,458.3 659.3,458.6 659.7,458.8 660.2,459.0 660.6,459.2 661.0,459.4 661.5,459.6 661.9,459.8 662.3,460.0 662.7,460.2 663.1,460.3 663.6,460.5 664.0,460.6 664.4,460.8 664.8,460.9 665.2,461.0 665.6,461.2 666.0,461.3 666.4,461.4 666.8,461.5 667.1,461.6 667.5,461.7 667.9,461.8 668.3,461.9 668.6,462.0 669.0,462.1 669.4,462.1 669.7,462.2 670.1,462.3 670.5,462.4 670.8,462.4 671.2,462.5 671.5,462.6" stroke="#008080" stroke-width="2.9" fill="none" stroke-linejoin="round" stroke-linecap="butt" marker-start="url(#st)" marker-mid="url(#st)" marker-end="url(#st)"/>
<path d="M418.0,493.1 445.2,485.9 461.3,478.6 472.7,472.6 481.7,467.3 489.1,462.5 495.4,458.2 500.9,454.5 505.7,451.3 510.1,448.4 514.1,445.7 517.8,443.2 521.2,441.0 524.4,438.8 527.3,436.8 530.1,435.0 532.8,433.2 535.3,431.6 537.7,430.1 540.0,428.7 542.2,427.3 544.3,426.1 546.3,424.9 548.3,423.9 550.2,422.9 552.0,422.1 553.7,421.3 555.5,420.5 557.1,419.9 558.7,419.3 560.3,418.8 561.8,418.3 563.3,417.9 564.8,417.6 566.2,417.3 567.6,417.0 569.0,416.8 570.3,416.6 571.6,416.4 572.9,416.2 574.2,416.1 575.4,416.0 576.6,415.9 577.8,415.9 579.0,415.8 580.1,415.8 581.3,415.8 582.4,415.8 583.5,415.8 584.6,415.8 585.7,415.8 586.7,415.9 587.8,415.9 588.8,416.0 589.8,416.1 590.8,416.2 591.8,416.3 592.8,416.4 593.7,416.5 594.7,416.6 595.6,416.8 596.6,416.9 597.5,417.1 598.4,417.2 599.3,417.4 600.2,417.6 601.1,417.8 601.9,418.0 602.8,418.2 603.7,418.4 604.5,418.6 605.3,418.8 606.2,419.0 607.0,419.3 607.8,419.5 608.6,419.8 609.4,420.0 610.2,420.3 611.0,420.5 611.8,420.8 612.6,421.1 613.3,421.3 614.1,421.6 614.9,421.9 615.6,422.2 616.4,422.4 617.1,422.7 617.8,423.0 618.6,423.3 619.3,423.6 620.0,423.9 620.7,424.2 621.4,424.5 622.1,424.8 622.8,425.1 623.5,425.4 624.2,425.7 624.9,426.0 625.6,426.3 626.2,426.7 626.9,427.0 627.6,427.3 628.2,427.6 628.9,428.0 629.5,428.3 630.2,428.6 630.8,429.0 631.4,429.3 632.1,429.6 632.7,430.0 633.3,430.3 633.9,430.7 634.6,431.0 635.2,431.4 635.8,431.8 636.4,432.1 637.0,432.5 637.6,432.9 638.2,433.2 638.7,433.6 639.3,434.0 639.9,434.4 640.5,434.8 641.1,435.2 641.6,435.6 642.2,436.0 642.8,436.4 643.3,436.8 643.9,437.2 644.4,437.6 645.0,438.0 645.5,438.4 646.0,438.8 646.6,439.3 647.1,439.7 647.6,440.1 648.2,440.6 648.7,441.0 649.2,441.4 649.7,441.9 650.2,442.3 650.7,442.8 651.2,443.2 651.7,443.7 652.2,444.1 652.7,444.6 653.2,445.0 653.7,445.5 654.2,445.9 654.7,446.4 655.1,446.9 655.6,447.3 656.1,447.8 656.6,448.2 657.0,448.7 657.5,449.1 657.9,449.6 658.4,450.0 658.8,450.5 659.3,451.0 659.7,451.4 660.2,451.8 660.6,452.3 661.0,452.7 661.5,453.2 661.9,453.6 662.3,454.0 662.7,454.4 663.1,454.8 663.6,455.2 664.0,455.5 664.4,455.9 664.8,456.2 665.2,456.6 665.6,456.9 666.0,457.2 666.4,457.5 666.8,457.8 667.1,458.1 667.5,458.3 667.9,458.6 668.3,458.8 668.6,459.0 669.0,459.3 669.4,459.5 669.7,459.7 670.1,459.9 670.5,460.1 670.8,460.4 671.2,460.6 671.5,460.8" stroke="#008080" stroke-width="2.9" fill="none" stroke-linejoin="round" stroke-linecap="butt" marker-start="url(#xt)" marker-mid="url(#xt)" marker-end="url(#xt)"/>
<path d="M418.0,488.8 445.2,472.9 461.3,456.6 472.7,439.7 481.7,423.7 489.1,408.9 495.4,395.4 500.9,383.4 505.7,372.9 510.1,363.7 514.1,355.8 517.8,348.9 521.2,343.1 524.4,338.2 527.3,334.1 530.1,330.7 532.8,328.0 535.3,326.0 537.7,324.4 540.0,323.4 542.2,322.9 544.3,322.8 546.3,323.1 548.3,323.8 550.2,324.7 552.0,325.9 553.7,327.3 555.5,328.9 557.1,330.6 558.7,332.4 560.3,334.4 561.8,336.4 563.3,338.4 564.8,340.5 566.2,342.6 567.6,344.7 569.0,346.8 570.3,348.9 571.6,351.0 572.9,353.0 574.2,355.0 575.4,356.9 576.6,358.8 577.8,360.6 579.0,362.4 580.1,364.1 581.3,365.7 582.4,367.3 583.5,368.8 584.6,370.3 585.7,371.7 586.7,373.0 587.8,374.3 588.8,375.6 589.8,376.8 590.8,377.9 591.8,379.0 592.8,380.0 593.7,380.9 594.7,381.9 595.6,382.7 596.6,383.6 597.5,384.4 598.4,385.1 599.3,385.9 600.2,386.6 601.1,387.2 601.9,387.9 602.8,388.5 603.7,389.0 604.5,389.6 605.3,390.2 606.2,390.7 607.0,391.2 607.8,391.7 608.6,392.2 609.4,392.6 610.2,393.1 611.0,393.6 611.8,394.0 612.6,394.4 613.3,394.9 614.1,395.3 614.9,395.7 615.6,396.1 616.4,396.5 617.1,397.0 617.8,397.4 618.6,397.8 619.3,398.2 620.0,398.6 620.7,399.0 621.4,399.4 622.1,399.8 622.8,400.3 623.5,400.7 624.2,401.1 624.9,401.5 625.6,402.0 626.2,402.4 626.9,402.9 627.6,403.3 628.2,403.8 628.9,404.2 629.5,404.7 630.2,405.2 630.8,405.7 631.4,406.1 632.1,406.6 632.7,407.1 633.3,407.6 633.9,408.1 634.6,408.6 635.2,409.1 635.8,409.6 636.4,410.1 637.0,410.6 637.6,411.1 638.2,411.7 638.7,412.2 639.3,412.7 639.9,413.2 640.5,413.8 641.1,414.3 641.6,414.9 642.2,415.4 642.8,416.0 643.3,416.6 643.9,417.1 644.4,417.7 645.0,418.3 645.5,418.9 646.0,419.5 646.6,420.1 647.1,420.7 647.6,421.3 648.2,421.9 648.7,422.6 649.2,423.2 649.7,423.8 650.2,424.5 650.7,425.1 651.2,425.8 651.7,426.4 652.2,427.1 652.7,427.8 653.2,428.4 653.7,429.1 654.2,429.8 654.7,430.4 655.1,431.1 655.6,431.8 656.1,432.5 656.6,433.1 657.0,433.8 657.5,434.5 657.9,435.2 658.4,435.8 658.8,436.5 659.3,437.2 659.7,437.8 660.2,438.5 660.6,439.2 661.0,439.8 661.5,440.4 661.9,441.1 662.3,441.7 662.7,442.3 663.1,443.0 663.6,443.6 664.0,444.2 664.4,444.7 664.8,445.3 665.2,445.9 665.6,446.4 666.0,446.9 666.4,447.5 666.8,448.0 667.1,448.5 667.5,448.9 667.9,449.4 668.3,449.8 668.6,450.3 669.0,450.7 669.4,451.1 669.7,451.4 670.1,451.8 670.5,452.2 670.8,452.5 671.2,452.9 671.5,453.2" stroke="#ff0000" stroke-width="2.9" fill="none" stroke-linejoin="round" stroke-linecap="butt" marker-start="url(#or)" marker-mid="url(#or)" marker-end="url(#or)"/>
<path d="M418.0,503.8 445.2,503.0 461.3,501.7 472.7,500.2 481.7,498.5 489.1,496.7 495.4,494.9 500.9,493.1 505.7,491.5 510.1,489.9 514.1,488.4 517.8,486.8 521.2,485.1 524.4,483.5 527.3,481.7 530.1,479.9 532.8,478.0 535.3,476.2 537.7,474.3 540.0,472.5 542.2,470.7 544.3,468.9 546.3,467.1 548.3,465.4 550.2,463.8 552.0,462.2 553.7,460.7 555.5,459.3 557.1,458.0 558.7,456.7 560.3,455.5 561.8,454.4 563.3,453.3 564.8,452.3 566.2,451.3 567.6,450.4 569.0,449.5 570.3,448.7 571.6,447.9 572.9,447.1 574.2,446.4 575.4,445.7 576.6,445.0 577.8,444.4 579.0,443.8 580.1,443.2 581.3,442.7 582.4,442.2 583.5,441.7 584.6,441.2 585.7,440.8 586.7,440.4 587.8,440.0 588.8,439.6 589.8,439.3 590.8,439.0 591.8,438.7 592.8,438.5 593.7,438.2 594.7,438.0 595.6,437.9 596.6,437.7 597.5,437.6 598.4,437.4 599.3,437.3 600.2,437.2 601.1,437.2 601.9,437.1 602.8,437.1 603.7,437.1 604.5,437.1 605.3,437.1 606.2,437.1 607.0,437.1 607.8,437.2 608.6,437.2 609.4,437.3 610.2,437.4 611.0,437.5 611.8,437.6 612.6,437.7 613.3,437.8 614.1,438.0 614.9,438.1 615.6,438.3 616.4,438.4 617.1,438.6 617.8,438.8 618.6,438.9 619.3,439.1 620.0,439.3 620.7,439.5 621.4,439.7 622.1,439.9 622.8,440.1 623.5,440.3 624.2,440.6 624.9,440.8 625.6,441.0 626.2,441.2 626.9,441.5 627.6,441.7 628.2,442.0 628.9,442.2 629.5,442.5 630.2,442.7 630.8,443.0 631.4,443.2 632.1,443.5 632.7,443.8 633.3,444.1 633.9,444.3 634.6,444.6 635.2,444.9 635.8,445.2 636.4,445.5 637.0,445.8 637.6,446.1 638.2,446.4 638.7,446.7 639.3,447.0 639.9,447.4 640.5,447.7 641.1,448.0 641.6,448.3 642.2,448.6 642.8,448.9 643.3,449.3 643.9,449.6 644.4,449.9 645.0,450.2 645.5,450.6 646.0,450.9 646.6,451.2 647.1,451.6 647.6,451.9 648.2,452.2 648.7,452.5 649.2,452.9 649.7,453.2 650.2,453.5 650.7,453.8 651.2,454.1 651.7,454.5 652.2,454.8 652.7,455.1 653.2,455.4 653.7,455.7 654.2,456.0 654.7,456.2 655.1,456.5 655.6,456.8 656.1,457.1 656.6,457.3 657.0,457.6 657.5,457.8 657.9,458.1 658.4,458.3 658.8,458.6 659.3,458.8 659.7,459.0 660.2,459.2 660.6,459.4 661.0,459.6 661.5,459.8 661.9,460.0 662.3,460.2 662.7,460.3 663.1,460.5 663.6,460.6 664.0,460.8 664.4,460.9 664.8,461.1 665.2,461.2 665.6,461.3 666.0,461.4 666.4,461.5 666.8,461.7 667.1,461.7 667.5,461.8 667.9,461.9 668.3,462.0 668.6,462.1 669.0,462.2 669.4,462.3 669.7,462.3 670.1,462.4 670.5,462.5 670.8,462.5 671.2,462.6 671.5,462.7" stroke="#ff0000" stroke-width="2.9" fill="none" stroke-linejoin="round" stroke-linecap="butt" marker-start="url(#sr)" marker-mid="url(#sr)" marker-end="url(#sr)"/>
<path d="M418.0,496.2 445.2,488.9 461.3,481.7 472.7,475.6 481.7,470.3 489.1,465.5 495.4,461.3 500.9,457.6 505.7,454.3 510.1,451.4 514.1,448.7 517.8,446.3 521.2,444.0 524.4,441.9 527.3,439.9 530.1,438.0 532.8,436.3 535.3,434.6 537.7,433.1 540.0,431.7 542.2,430.4 544.3,429.1 546.3,428.0 548.3,426.9 550.2,426.0 552.0,425.1 553.7,424.3 555.5,423.6 557.1,422.9 558.7,422.4 560.3,421.8 561.8,421.4 563.3,421.0 564.8,420.6 566.2,420.3 567.6,420.0 569.0,419.8 570.3,419.6 571.6,419.4 572.9,419.3 574.2,419.2 575.4,419.0 576.6,419.0 577.8,418.9 579.0,418.9 580.1,418.8 581.3,418.8 582.4,418.8 583.5,418.8 584.6,418.8 585.7,418.9 586.7,418.9 587.8,419.0 588.8,419.1 589.8,419.1 590.8,419.2 591.8,419.3 592.8,419.4 593.7,419.5 594.7,419.7 595.6,419.8 596.6,420.0 597.5,420.1 598.4,420.3 599.3,420.4 600.2,420.6 601.1,420.8 601.9,421.0 602.8,421.2 603.7,421.4 604.5,421.6 605.3,421.9 606.2,422.1 607.0,422.3 607.8,422.6 608.6,422.8 609.4,423.1 610.2,423.3 611.0,423.6 611.8,423.8 612.6,424.1 613.3,424.4 614.1,424.6 614.9,424.9 615.6,425.2 616.4,425.5 617.1,425.8 617.8,426.1 618.6,426.3 619.3,426.6 620.0,426.9 620.7,427.2 621.4,427.5 622.1,427.8 622.8,428.2 623.5,428.5 624.2,428.8 624.9,429.1 625.6,429.4 626.2,429.7 626.9,430.0 627.6,430.4 628.2,430.7 628.9,431.0 629.5,431.3 630.2,431.7 630.8,432.0 631.4,432.3 632.1,432.7 632.7,433.0 633.3,433.4 633.9,433.7 634.6,434.1 635.2,434.4 635.8,434.8 636.4,435.2 637.0,435.5 637.6,435.9 638.2,436.3 638.7,436.7 639.3,437.0 639.9,437.4 640.5,437.8 641.1,438.2 641.6,438.6 642.2,439.0 642.8,439.4 643.3,439.8 643.9,440.2 644.4,440.6 645.0,441.1 645.5,441.5 646.0,441.9 646.6,442.3 647.1,442.7 647.6,443.2 648.2,443.6 648.7,444.1 649.2,444.5 649.7,444.9 650.2,445.4 650.7,445.8 651.2,446.3 651.7,446.7 652.2,447.2 652.7,447.6 653.2,448.1 653.7,448.5 654.2,449.0 654.7,449.5 655.1,449.9 655.6,450.4 656.1,450.8 656.6,451.3 657.0,451.7 657.5,452.2 657.9,452.6 658.4,453.1 658.8,453.6 659.3,454.0 659.7,454.5 660.2,454.9 660.6,455.3 661.0,455.8 661.5,456.2 661.9,456.6 662.3,457.0 662.7,457.4 663.1,457.8 663.6,458.2 664.0,458.6 664.4,458.9 664.8,459.3 665.2,459.6 665.6,459.9 666.0,460.3 666.4,460.5 666.8,460.8 667.1,461.1 667.5,461.4 667.9,461.6 668.3,461.9 668.6,462.1 669.0,462.3 669.4,462.6 669.7,462.8 670.1,463.0 670.5,463.2 670.8,463.4 671.2,463.6 671.5,463.8" stroke="#ff0000" stroke-width="2.9" fill="none" stroke-linejoin="round" stroke-linecap="butt" marker-start="url(#xr)" marker-mid="url(#xr)" marker-end="url(#xr)"/>
<path d="M418.0,488.8 445.2,473.0 461.3,457.1 472.7,440.7 481.7,425.2 489.1,410.7 495.4,397.4 500.9,385.4 505.7,374.8 510.1,365.5 514.1,357.4 517.8,350.3 521.2,344.3 524.4,339.1 527.3,334.8 530.1,331.3 532.8,328.5 535.3,326.2 537.7,324.6 540.0,323.5 542.2,322.8 544.3,322.6 546.3,322.8 548.3,323.4 550.2,324.2 552.0,325.3 553.7,326.6 555.5,328.1 557.1,329.8 558.7,331.5 560.3,333.4 561.8,335.3 563.3,337.3 564.8,339.3 566.2,341.3 567.6,343.4 569.0,345.4 570.3,347.5 571.6,349.5 572.9,351.4 574.2,353.4 575.4,355.3 576.6,357.1 577.8,358.9 579.0,360.6 580.1,362.3 581.3,363.9 582.4,365.4 583.5,366.9 584.6,368.4 585.7,369.7 586.7,371.1 587.8,372.3 588.8,373.6 589.8,374.7 590.8,375.9 591.8,376.9 592.8,377.9 593.7,378.9 594.7,379.8 595.6,380.7 596.6,381.6 597.5,382.4 598.4,383.1 599.3,383.9 600.2,384.6 601.1,385.3 601.9,385.9 602.8,386.5 603.7,387.1 604.5,387.7 605.3,388.3 606.2,388.9 607.0,389.4 607.8,389.9 608.6,390.4 609.4,390.9 610.2,391.4 611.0,391.9 611.8,392.4 612.6,392.8 613.3,393.3 614.1,393.7 614.9,394.2 615.6,394.6 616.4,395.1 617.1,395.5 617.8,396.0 618.6,396.4 619.3,396.8 620.0,397.3 620.7,397.7 621.4,398.2 622.1,398.6 622.8,399.1 623.5,399.5 624.2,400.0 624.9,400.5 625.6,400.9 626.2,401.4 626.9,401.9 627.6,402.3 628.2,402.8 628.9,403.3 629.5,403.8 630.2,404.3 630.8,404.8 631.4,405.3 632.1,405.8 632.7,406.3 633.3,406.8 633.9,407.4 634.6,407.9 635.2,408.4 635.8,408.9 636.4,409.5 637.0,410.0 637.6,410.5 638.2,411.1 638.7,411.6 639.3,412.2 639.9,412.7 640.5,413.3 641.1,413.8 641.6,414.4 642.2,415.0 642.8,415.5 643.3,416.1 643.9,416.7 644.4,417.3 645.0,417.9 645.5,418.5 646.0,419.1 646.6,419.7 647.1,420.4 647.6,421.0 648.2,421.6 648.7,422.3 649.2,422.9 649.7,423.5 650.2,424.2 650.7,424.9 651.2,425.5 651.7,426.2 652.2,426.9 652.7,427.5 653.2,428.2 653.7,428.9 654.2,429.6 654.7,430.2 655.1,430.9 655.6,431.6 656.1,432.3 656.6,433.0 657.0,433.7 657.5,434.3 657.9,435.0 658.4,435.7 658.8,436.4 659.3,437.0 659.7,437.7 660.2,438.4 660.6,439.0 661.0,439.7 661.5,440.3 661.9,441.0 662.3,441.6 662.7,442.2 663.1,442.9 663.6,443.5 664.0,444.1 664.4,444.6 664.8,445.2 665.2,445.8 665.6,446.3 666.0,446.9 666.4,447.4 666.8,447.9 667.1,448.4 667.5,448.9 667.9,449.3 668.3,449.8 668.6,450.2 669.0,450.6 669.4,451.0 669.7,451.4 670.1,451.8 670.5,452.1 670.8,452.5 671.2,452.8 671.5,453.1" stroke="#000" stroke-width="2.9" fill="none" stroke-linejoin="round" stroke-linecap="butt"/>
<path d="M418.0,503.8 445.2,503.0 461.3,501.7 472.7,500.2 481.7,498.6 489.1,496.8 495.4,495.0 500.9,493.4 505.7,491.8 510.1,490.3 514.1,488.9 517.8,487.4 521.2,485.8 524.4,484.2 527.3,482.6 530.1,480.8 532.8,479.1 535.3,477.3 537.7,475.5 540.0,473.8 542.2,472.0 544.3,470.3 546.3,468.6 548.3,467.0 550.2,465.4 552.0,463.8 553.7,462.4 555.5,461.0 557.1,459.7 558.7,458.5 560.3,457.3 561.8,456.2 563.3,455.2 564.8,454.2 566.2,453.2 567.6,452.3 569.0,451.4 570.3,450.6 571.6,449.8 572.9,449.0 574.2,448.3 575.4,447.6 576.6,446.9 577.8,446.3 579.0,445.7 580.1,445.1 581.3,444.5 582.4,444.0 583.5,443.5 584.6,443.0 585.7,442.5 586.7,442.1 587.8,441.7 588.8,441.3 589.8,440.9 590.8,440.6 591.8,440.3 592.8,440.0 593.7,439.8 594.7,439.5 595.6,439.3 596.6,439.1 597.5,439.0 598.4,438.8 599.3,438.7 600.2,438.6 601.1,438.5 601.9,438.4 602.8,438.3 603.7,438.3 604.5,438.3 605.3,438.2 606.2,438.2 607.0,438.2 607.8,438.3 608.6,438.3 609.4,438.3 610.2,438.4 611.0,438.5 611.8,438.5 612.6,438.6 613.3,438.7 614.1,438.8 614.9,439.0 615.6,439.1 616.4,439.2 617.1,439.4 617.8,439.5 618.6,439.7 619.3,439.8 620.0,440.0 620.7,440.2 621.4,440.4 622.1,440.5 622.8,440.7 623.5,440.9 624.2,441.1 624.9,441.3 625.6,441.6 626.2,441.8 626.9,442.0 627.6,442.2 628.2,442.4 628.9,442.7 629.5,442.9 630.2,443.2 630.8,443.4 631.4,443.7 632.1,443.9 632.7,444.2 633.3,444.4 633.9,444.7 634.6,445.0 635.2,445.3 635.8,445.5 636.4,445.8 637.0,446.1 637.6,446.4 638.2,446.7 638.7,447.0 639.3,447.3 639.9,447.6 640.5,447.9 641.1,448.2 641.6,448.5 642.2,448.9 642.8,449.2 643.3,449.5 643.9,449.8 644.4,450.1 645.0,450.4 645.5,450.8 646.0,451.1 646.6,451.4 647.1,451.7 647.6,452.1 648.2,452.4 648.7,452.7 649.2,453.0 649.7,453.3 650.2,453.6 650.7,454.0 651.2,454.3 651.7,454.6 652.2,454.9 652.7,455.2 653.2,455.5 653.7,455.8 654.2,456.1 654.7,456.3 655.1,456.6 655.6,456.9 656.1,457.2 656.6,457.4 657.0,457.7 657.5,457.9 657.9,458.2 658.4,458.4 658.8,458.6 659.3,458.9 659.7,459.1 660.2,459.3 660.6,459.5 661.0,459.7 661.5,459.9 661.9,460.0 662.3,460.2 662.7,460.4 663.1,460.5 663.6,460.7 664.0,460.8 664.4,461.0 664.8,461.1 665.2,461.2 665.6,461.4 666.0,461.5 666.4,461.6 666.8,461.7 667.1,461.8 667.5,461.9 667.9,462.0 668.3,462.1 668.6,462.1 669.0,462.2 669.4,462.3 669.7,462.4 670.1,462.4 670.5,462.5 670.8,462.6 671.2,462.6 671.5,462.7" stroke="#000" stroke-width="2.9" fill="none" stroke-linejoin="round" stroke-linecap="butt"/>
<path d="M418.0,495.2 445.2,487.9 461.3,480.7 472.7,474.6 481.7,469.3 489.1,464.5 495.4,460.3 500.9,456.6 505.7,453.3 510.1,450.4 514.1,447.7 517.8,445.3 521.2,443.0 524.4,440.9 527.3,438.9 530.1,437.0 532.8,435.3 535.3,433.6 537.7,432.1 540.0,430.7 542.2,429.4 544.3,428.1 546.3,427.0 548.3,425.9 550.2,425.0 552.0,424.1 553.7,423.3 555.5,422.6 557.1,421.9 558.7,421.3 560.3,420.8 561.8,420.4 563.3,420.0 564.8,419.6 566.2,419.3 567.6,419.0 569.0,418.8 570.3,418.6 571.6,418.4 572.9,418.3 574.2,418.1 575.4,418.0 576.6,418.0 577.8,417.9 579.0,417.8 580.1,417.8 581.3,417.8 582.4,417.8 583.5,417.8 584.6,417.8 585.7,417.9 586.7,417.9 587.8,418.0 588.8,418.0 589.8,418.1 590.8,418.2 591.8,418.3 592.8,418.4 593.7,418.5 594.7,418.7 595.6,418.8 596.6,418.9 597.5,419.1 598.4,419.3 599.3,419.4 600.2,419.6 601.1,419.8 601.9,420.0 602.8,420.2 603.7,420.4 604.5,420.6 605.3,420.8 606.2,421.1 607.0,421.3 607.8,421.6 608.6,421.8 609.4,422.0 610.2,422.3 611.0,422.6 611.8,422.8 612.6,423.1 613.3,423.4 614.1,423.6 614.9,423.9 615.6,424.2 616.4,424.5 617.1,424.8 617.8,425.0 618.6,425.3 619.3,425.6 620.0,425.9 620.7,426.2 621.4,426.5 622.1,426.8 622.8,427.1 623.5,427.4 624.2,427.8 624.9,428.1 625.6,428.4 626.2,428.7 626.9,429.0 627.6,429.3 628.2,429.7 628.9,430.0 629.5,430.3 630.2,430.7 630.8,431.0 631.4,431.3 632.1,431.7 632.7,432.0 633.3,432.4 633.9,432.7 634.6,433.1 635.2,433.4 635.8,433.8 636.4,434.2 637.0,434.5 637.6,434.9 638.2,435.3 638.7,435.7 639.3,436.0 639.9,436.4 640.5,436.8 641.1,437.2 641.6,437.6 642.2,438.0 642.8,438.4 643.3,438.8 643.9,439.2 644.4,439.6 645.0,440.0 645.5,440.5 646.0,440.9 646.6,441.3 647.1,441.7 647.6,442.2 648.2,442.6 648.7,443.0 649.2,443.5 649.7,443.9 650.2,444.4 650.7,444.8 651.2,445.3 651.7,445.7 652.2,446.2 652.7,446.6 653.2,447.1 653.7,447.5 654.2,448.0 654.7,448.4 655.1,448.9 655.6,449.3 656.1,449.8 656.6,450.3 657.0,450.7 657.5,451.2 657.9,451.6 658.4,452.1 658.8,452.5 659.3,453.0 659.7,453.4 660.2,453.9 660.6,454.3 661.0,454.8 661.5,455.2 661.9,455.6 662.3,456.0 662.7,456.4 663.1,456.8 663.6,457.2 664.0,457.6 664.4,457.9 664.8,458.3 665.2,458.6 665.6,458.9 666.0,459.2 666.4,459.5 666.8,459.8 667.1,460.1 667.5,460.3 667.9,460.6 668.3,460.8 668.6,461.1 669.0,461.3 669.4,461.5 669.7,461.8 670.1,462.0 670.5,462.2 670.8,462.4 671.2,462.6 671.5,462.8" stroke="#000" stroke-width="2.9" fill="none" stroke-linejoin="round" stroke-linecap="butt"/>
<rect x="56.00" y="11.30" width="277.50" height="203.20" fill="none" stroke="#000" stroke-width="1.2"/>
<line x1="59.46" y1="214.50" x2="59.46" y2="217.50" stroke="#000" stroke-width="0.9"/>
<line x1="66.54" y1="214.50" x2="66.54" y2="217.50" stroke="#000" stroke-width="0.9"/>
<line x1="72.54" y1="214.50" x2="72.54" y2="217.50" stroke="#000" stroke-width="0.9"/>
<line x1="77.73" y1="214.50" x2="77.73" y2="217.50" stroke="#000" stroke-width="0.9"/>
<line x1="82.30" y1="214.50" x2="82.30" y2="217.50" stroke="#000" stroke-width="0.9"/>
<line x1="86.40" y1="214.50" x2="86.40" y2="219.80" stroke="#000" stroke-width="1.1"/>
<line x1="113.34" y1="214.50" x2="113.34" y2="217.50" stroke="#000" stroke-width="0.9"/>
<line x1="129.10" y1="214.50" x2="129.10" y2="217.50" stroke="#000" stroke-width="0.9"/>
<line x1="140.28" y1="214.50" x2="140.28" y2="217.50" stroke="#000" stroke-width="0.9"/>
<line x1="148.96" y1="214.50" x2="148.96" y2="217.50" stroke="#000" stroke-width="0.9"/>
<line x1="156.04" y1="214.50" x2="156.04" y2="217.50" stroke="#000" stroke-width="0.9"/>
<line x1="162.04" y1="214.50" x2="162.04" y2="217.50" stroke="#000" stroke-width="0.9"/>
<line x1="167.23" y1="214.50" x2="167.23" y2="217.50" stroke="#000" stroke-width="0.9"/>
<line x1="171.80" y1="214.50" x2="171.80" y2="217.50" stroke="#000" stroke-width="0.9"/>
<line x1="175.90" y1="214.50" x2="175.90" y2="219.80" stroke="#000" stroke-width="1.1"/>
<line x1="202.84" y1="214.50" x2="202.84" y2="217.50" stroke="#000" stroke-width="0.9"/>
<line x1="218.60" y1="214.50" x2="218.60" y2="217.50" stroke="#000" stroke-width="0.9"/>
<line x1="229.78" y1="214.50" x2="229.78" y2="217.50" stroke="#000" stroke-width="0.9"/>
<line x1="238.46" y1="214.50" x2="238.46" y2="217.50" stroke="#000" stroke-width="0.9"/>
<line x1="245.54" y1="214.50" x2="245.54" y2="217.50" stroke="#000" stroke-width="0.9"/>
<line x1="251.54" y1="214.50" x2="251.54" y2="217.50" stroke="#000" stroke-width="0.9"/>
<line x1="256.73" y1="214.50" x2="256.73" y2="217.50" stroke="#000" stroke-width="0.9"/>
<line x1="261.30" y1="214.50" x2="261.30" y2="217.50" stroke="#000" stroke-width="0.9"/>
<line x1="265.40" y1="214.50" x2="265.40" y2="219.80" stroke="#000" stroke-width="1.1"/>
<line x1="292.34" y1="214.50" x2="292.34" y2="217.50" stroke="#000" stroke-width="0.9"/>
<line x1="308.10" y1="214.50" x2="308.10" y2="217.50" stroke="#000" stroke-width="0.9"/>
<line x1="319.28" y1="214.50" x2="319.28" y2="217.50" stroke="#000" stroke-width="0.9"/>
<line x1="327.96" y1="214.50" x2="327.96" y2="217.50" stroke="#000" stroke-width="0.9"/>
<line x1="50.70" y1="214.50" x2="56.00" y2="214.50" stroke="#000" stroke-width="1.1"/>
<line x1="50.70" y1="170.35" x2="56.00" y2="170.35" stroke="#000" stroke-width="1.1"/>
<line x1="50.70" y1="126.20" x2="56.00" y2="126.20" stroke="#000" stroke-width="1.1"/>
<line x1="50.70" y1="82.05" x2="56.00" y2="82.05" stroke="#000" stroke-width="1.1"/>
<line x1="50.70" y1="37.90" x2="56.00" y2="37.90" stroke="#000" stroke-width="1.1"/>
<rect x="406.20" y="11.30" width="277.10" height="203.20" fill="none" stroke="#000" stroke-width="1.2"/>
<line x1="409.66" y1="214.50" x2="409.66" y2="217.50" stroke="#000" stroke-width="0.9"/>
<line x1="416.74" y1="214.50" x2="416.74" y2="217.50" stroke="#000" stroke-width="0.9"/>
<line x1="422.74" y1="214.50" x2="422.74" y2="217.50" stroke="#000" stroke-width="0.9"/>
<line x1="427.93" y1="214.50" x2="427.93" y2="217.50" stroke="#000" stroke-width="0.9"/>
<line x1="432.50" y1="214.50" x2="432.50" y2="217.50" stroke="#000" stroke-width="0.9"/>
<line x1="436.60" y1="214.50" x2="436.60" y2="219.80" stroke="#000" stroke-width="1.1"/>
<line x1="463.54" y1="214.50" x2="463.54" y2="217.50" stroke="#000" stroke-width="0.9"/>
<line x1="479.30" y1="214.50" x2="479.30" y2="217.50" stroke="#000" stroke-width="0.9"/>
<line x1="490.48" y1="214.50" x2="490.48" y2="217.50" stroke="#000" stroke-width="0.9"/>
<line x1="499.16" y1="214.50" x2="499.16" y2="217.50" stroke="#000" stroke-width="0.9"/>
<line x1="506.24" y1="214.50" x2="506.24" y2="217.50" stroke="#000" stroke-width="0.9"/>
<line x1="512.24" y1="214.50" x2="512.24" y2="217.50" stroke="#000" stroke-width="0.9"/>
<line x1="517.43" y1="214.50" x2="517.43" y2="217.50" stroke="#000" stroke-width="0.9"/>
<line x1="522.00" y1="214.50" x2="522.00" y2="217.50" stroke="#000" stroke-width="0.9"/>
<line x1="526.10" y1="214.50" x2="526.10" y2="219.80" stroke="#000" stroke-width="1.1"/>
<line x1="553.04" y1="214.50" x2="553.04" y2="217.50" stroke="#000" stroke-width="0.9"/>
<line x1="568.80" y1="214.50" x2="568.80" y2="217.50" stroke="#000" stroke-width="0.9"/>
<line x1="579.98" y1="214.50" x2="579.98" y2="217.50" stroke="#000" stroke-width="0.9"/>
<line x1="588.66" y1="214.50" x2="588.66" y2="217.50" stroke="#000" stroke-width="0.9"/>
<line x1="595.74" y1="214.50" x2="595.74" y2="217.50" stroke="#000" stroke-width="0.9"/>
<line x1="601.74" y1="214.50" x2="601.74" y2="217.50" stroke="#000" stroke-width="0.9"/>
<line x1="606.93" y1="214.50" x2="606.93" y2="217.50" stroke="#000" stroke-width="0.9"/>
<line x1="611.50" y1="214.50" x2="611.50" y2="217.50" stroke="#000" stroke-width="0.9"/>
<line x1="615.60" y1="214.50" x2="615.60" y2="219.80" stroke="#000" stroke-width="1.1"/>
<line x1="642.54" y1="214.50" x2="642.54" y2="217.50" stroke="#000" stroke-width="0.9"/>
<line x1="658.30" y1="214.50" x2="658.30" y2="217.50" stroke="#000" stroke-width="0.9"/>
<line x1="669.48" y1="214.50" x2="669.48" y2="217.50" stroke="#000" stroke-width="0.9"/>
<line x1="678.16" y1="214.50" x2="678.16" y2="217.50" stroke="#000" stroke-width="0.9"/>
<line x1="400.90" y1="214.50" x2="406.20" y2="214.50" stroke="#000" stroke-width="1.1"/>
<line x1="400.90" y1="146.77" x2="406.20" y2="146.77" stroke="#000" stroke-width="1.1"/>
<line x1="400.90" y1="79.04" x2="406.20" y2="79.04" stroke="#000" stroke-width="1.1"/>
<line x1="400.90" y1="11.31" x2="406.20" y2="11.31" stroke="#000" stroke-width="1.1"/>
<rect x="56.00" y="301.30" width="277.50" height="203.20" fill="none" stroke="#000" stroke-width="1.2"/>
<line x1="59.46" y1="504.50" x2="59.46" y2="507.50" stroke="#000" stroke-width="0.9"/>
<line x1="66.54" y1="504.50" x2="66.54" y2="507.50" stroke="#000" stroke-width="0.9"/>
<line x1="72.54" y1="504.50" x2="72.54" y2="507.50" stroke="#000" stroke-width="0.9"/>
<line x1="77.73" y1="504.50" x2="77.73" y2="507.50" stroke="#000" stroke-width="0.9"/>
<line x1="82.30" y1="504.50" x2="82.30" y2="507.50" stroke="#000" stroke-width="0.9"/>
<line x1="86.40" y1="504.50" x2="86.40" y2="509.80" stroke="#000" stroke-width="1.1"/>
<line x1="113.34" y1="504.50" x2="113.34" y2="507.50" stroke="#000" stroke-width="0.9"/>
<line x1="129.10" y1="504.50" x2="129.10" y2="507.50" stroke="#000" stroke-width="0.9"/>
<line x1="140.28" y1="504.50" x2="140.28" y2="507.50" stroke="#000" stroke-width="0.9"/>
<line x1="148.96" y1="504.50" x2="148.96" y2="507.50" stroke="#000" stroke-width="0.9"/>
<line x1="156.04" y1="504.50" x2="156.04" y2="507.50" stroke="#000" stroke-width="0.9"/>
<line x1="162.04" y1="504.50" x2="162.04" y2="507.50" stroke="#000" stroke-width="0.9"/>
<line x1="167.23" y1="504.50" x2="167.23" y2="507.50" stroke="#000" stroke-width="0.9"/>
<line x1="171.80" y1="504.50" x2="171.80" y2="507.50" stroke="#000" stroke-width="0.9"/>
<line x1="175.90" y1="504.50" x2="175.90" y2="509.80" stroke="#000" stroke-width="1.1"/>
<line x1="202.84" y1="504.50" x2="202.84" y2="507.50" stroke="#000" stroke-width="0.9"/>
<line x1="218.60" y1="504.50" x2="218.60" y2="507.50" stroke="#000" stroke-width="0.9"/>
<line x1="229.78" y1="504.50" x2="229.78" y2="507.50" stroke="#000" stroke-width="0.9"/>
<line x1="238.46" y1="504.50" x2="238.46" y2="507.50" stroke="#000" stroke-width="0.9"/>
<line x1="245.54" y1="504.50" x2="245.54" y2="507.50" stroke="#000" stroke-width="0.9"/>
<line x1="251.54" y1="504.50" x2="251.54" y2="507.50" stroke="#000" stroke-width="0.9"/>
<line x1="256.73" y1="504.50" x2="256.73" y2="507.50" stroke="#000" stroke-width="0.9"/>
<line x1="261.30" y1="504.50" x2="261.30" y2="507.50" stroke="#000" stroke-width="0.9"/>
<line x1="265.40" y1="504.50" x2="265.40" y2="509.80" stroke="#000" stroke-width="1.1"/>
<line x1="292.34" y1="504.50" x2="292.34" y2="507.50" stroke="#000" stroke-width="0.9"/>
<line x1="308.10" y1="504.50" x2="308.10" y2="507.50" stroke="#000" stroke-width="0.9"/>
<line x1="319.28" y1="504.50" x2="319.28" y2="507.50" stroke="#000" stroke-width="0.9"/>
<line x1="327.96" y1="504.50" x2="327.96" y2="507.50" stroke="#000" stroke-width="0.9"/>
<line x1="50.70" y1="504.50" x2="56.00" y2="504.50" stroke="#000" stroke-width="1.1"/>
<line x1="50.70" y1="460.35" x2="56.00" y2="460.35" stroke="#000" stroke-width="1.1"/>
<line x1="50.70" y1="416.20" x2="56.00" y2="416.20" stroke="#000" stroke-width="1.1"/>
<line x1="50.70" y1="372.05" x2="56.00" y2="372.05" stroke="#000" stroke-width="1.1"/>
<line x1="50.70" y1="327.90" x2="56.00" y2="327.90" stroke="#000" stroke-width="1.1"/>
<rect x="406.20" y="301.30" width="277.10" height="203.20" fill="none" stroke="#000" stroke-width="1.2"/>
<line x1="409.66" y1="504.50" x2="409.66" y2="507.50" stroke="#000" stroke-width="0.9"/>
<line x1="416.74" y1="504.50" x2="416.74" y2="507.50" stroke="#000" stroke-width="0.9"/>
<line x1="422.74" y1="504.50" x2="422.74" y2="507.50" stroke="#000" stroke-width="0.9"/>
<line x1="427.93" y1="504.50" x2="427.93" y2="507.50" stroke="#000" stroke-width="0.9"/>
<line x1="432.50" y1="504.50" x2="432.50" y2="507.50" stroke="#000" stroke-width="0.9"/>
<line x1="436.60" y1="504.50" x2="436.60" y2="509.80" stroke="#000" stroke-width="1.1"/>
<line x1="463.54" y1="504.50" x2="463.54" y2="507.50" stroke="#000" stroke-width="0.9"/>
<line x1="479.30" y1="504.50" x2="479.30" y2="507.50" stroke="#000" stroke-width="0.9"/>
<line x1="490.48" y1="504.50" x2="490.48" y2="507.50" stroke="#000" stroke-width="0.9"/>
<line x1="499.16" y1="504.50" x2="499.16" y2="507.50" stroke="#000" stroke-width="0.9"/>
<line x1="506.24" y1="504.50" x2="506.24" y2="507.50" stroke="#000" stroke-width="0.9"/>
<line x1="512.24" y1="504.50" x2="512.24" y2="507.50" stroke="#000" stroke-width="0.9"/>
<line x1="517.43" y1="504.50" x2="517.43" y2="507.50" stroke="#000" stroke-width="0.9"/>
<line x1="522.00" y1="504.50" x2="522.00" y2="507.50" stroke="#000" stroke-width="0.9"/>
<line x1="526.10" y1="504.50" x2="526.10" y2="509.80" stroke="#000" stroke-width="1.1"/>
<line x1="553.04" y1="504.50" x2="553.04" y2="507.50" stroke="#000" stroke-width="0.9"/>
<line x1="568.80" y1="504.50" x2="568.80" y2="507.50" stroke="#000" stroke-width="0.9"/>
<line x1="579.98" y1="504.50" x2="579.98" y2="507.50" stroke="#000" stroke-width="0.9"/>
<line x1="588.66" y1="504.50" x2="588.66" y2="507.50" stroke="#000" stroke-width="0.9"/>
<line x1="595.74" y1="504.50" x2="595.74" y2="507.50" stroke="#000" stroke-width="0.9"/>
<line x1="601.74" y1="504.50" x2="601.74" y2="507.50" stroke="#000" stroke-width="0.9"/>
<line x1="606.93" y1="504.50" x2="606.93" y2="507.50" stroke="#000" stroke-width="0.9"/>
<line x1="611.50" y1="504.50" x2="611.50" y2="507.50" stroke="#000" stroke-width="0.9"/>
<line x1="615.60" y1="504.50" x2="615.60" y2="509.80" stroke="#000" stroke-width="1.1"/>
<line x1="642.54" y1="504.50" x2="642.54" y2="507.50" stroke="#000" stroke-width="0.9"/>
<line x1="658.30" y1="504.50" x2="658.30" y2="507.50" stroke="#000" stroke-width="0.9"/>
<line x1="669.48" y1="504.50" x2="669.48" y2="507.50" stroke="#000" stroke-width="0.9"/>
<line x1="678.16" y1="504.50" x2="678.16" y2="507.50" stroke="#000" stroke-width="0.9"/>
<line x1="400.90" y1="504.50" x2="406.20" y2="504.50" stroke="#000" stroke-width="1.1"/>
<line x1="400.90" y1="436.77" x2="406.20" y2="436.77" stroke="#000" stroke-width="1.1"/>
<line x1="400.90" y1="369.04" x2="406.20" y2="369.04" stroke="#000" stroke-width="1.1"/>
<line x1="400.90" y1="301.31" x2="406.20" y2="301.31" stroke="#000" stroke-width="1.1"/>
<text x="34.76" y="220.76" font-size="17.60">0</text>
<text x="34.76" y="176.61" font-size="17.60">5</text>
<text x="25.96" y="132.46" font-size="17.60">10</text>
<text x="25.96" y="88.31" font-size="17.60">15</text>
<text x="25.96" y="44.16" font-size="17.60">20</text>
<text x="72.96" y="244.00" font-size="17.60">10</text>
<text x="90.87" y="237.20" font-size="11.60">0</text>
<text x="162.46" y="244.00" font-size="17.60">10</text>
<text x="179.79" y="237.20" font-size="11.60">1</text>
<text x="251.96" y="244.00" font-size="17.60">10</text>
<text x="269.78" y="237.20" font-size="11.60">2</text>
<text transform="translate(186.40,266.90) scale(0.900,1)" font-size="16.80" font-style="italic">y</text>
<path d="M195.35,257.00H202.75M199.05,253.30V260.70" stroke="#000" stroke-width="0.95" fill="none"/>
<text x="385.87" y="220.76" font-size="17.60">0</text>
<text x="385.87" y="153.03" font-size="17.60">1</text>
<text x="385.87" y="85.30" font-size="17.60">2</text>
<text x="385.87" y="17.57" font-size="17.60">3</text>
<text x="423.16" y="244.00" font-size="17.60">10</text>
<text x="441.06" y="237.20" font-size="11.60">0</text>
<text x="512.66" y="244.00" font-size="17.60">10</text>
<text x="529.99" y="237.20" font-size="11.60">1</text>
<text x="602.16" y="244.00" font-size="17.60">10</text>
<text x="619.98" y="237.20" font-size="11.60">2</text>
<text transform="translate(536.40,266.90) scale(0.900,1)" font-size="16.80" font-style="italic">y</text>
<path d="M545.35,257.00H552.75M549.05,253.30V260.70" stroke="#000" stroke-width="0.95" fill="none"/>
<text x="34.76" y="510.76" font-size="17.60">0</text>
<text x="34.76" y="466.61" font-size="17.60">5</text>
<text x="25.96" y="422.46" font-size="17.60">10</text>
<text x="25.96" y="378.31" font-size="17.60">15</text>
<text x="25.96" y="334.16" font-size="17.60">20</text>
<text x="72.96" y="534.00" font-size="17.60">10</text>
<text x="90.87" y="527.20" font-size="11.60">0</text>
<text x="162.46" y="534.00" font-size="17.60">10</text>
<text x="179.79" y="527.20" font-size="11.60">1</text>
<text x="251.96" y="534.00" font-size="17.60">10</text>
<text x="269.78" y="527.20" font-size="11.60">2</text>
<text transform="translate(186.40,556.90) scale(0.900,1)" font-size="16.80" font-style="italic">y</text>
<path d="M195.35,547.00H202.75M199.05,543.30V550.70" stroke="#000" stroke-width="0.95" fill="none"/>
<text x="385.87" y="510.76" font-size="17.60">0</text>
<text x="385.87" y="443.03" font-size="17.60">1</text>
<text x="385.87" y="375.30" font-size="17.60">2</text>
<text x="385.87" y="307.57" font-size="17.60">3</text>
<text x="423.16" y="534.00" font-size="17.60">10</text>
<text x="441.06" y="527.20" font-size="11.60">0</text>
<text x="512.66" y="534.00" font-size="17.60">10</text>
<text x="529.99" y="527.20" font-size="11.60">1</text>
<text x="602.16" y="534.00" font-size="17.60">10</text>
<text x="619.98" y="527.20" font-size="11.60">2</text>
<text transform="translate(536.40,556.90) scale(0.900,1)" font-size="16.80" font-style="italic">y</text>
<path d="M545.35,547.00H552.75M549.05,543.30V550.70" stroke="#000" stroke-width="0.95" fill="none"/>
<text transform="translate(17.20,126.53) rotate(-90)" font-size="17.60" font-style="italic">U</text>
<path d="M3.70,107.00H11.10M7.40,103.30V110.70" stroke="#000" stroke-width="0.95" fill="none"/>
<text transform="translate(17.20,416.53) rotate(-90)" font-size="17.60" font-style="italic">U</text>
<path d="M3.70,397.00H11.10M7.40,393.30V400.70" stroke="#000" stroke-width="0.95" fill="none"/>
<text transform="translate(0.01,14.00) scale(0.960,1)" font-size="18.20">(a)</text>
<text transform="translate(358.30,14.00) scale(0.980,1)" font-size="18.20">(b)</text>
<text transform="translate(0.01,307.60) scale(0.960,1)" font-size="18.20">(c)</text>
<text transform="translate(358.00,307.90) scale(0.980,1)" font-size="18.20">(d)</text>
<line x1="68.2" y1="31.4" x2="102.9" y2="31.4" stroke="#000" stroke-width="2.9"/>
<text transform="translate(114.30,36.50) scale(1.103,1)" font-size="15.00">PCH-DNS</text>
<line x1="68.2" y1="54.7" x2="102.9" y2="54.7" stroke="#0000ff" stroke-width="2.9"/>
<circle cx="86.0" cy="54.7" r="3.65" fill="#0000ff"/>
<text transform="translate(114.50,59.90) scale(1.050,1)" font-size="15.50" font-style="italic">x</text>
<text transform="translate(126.87,61.30) scale(1.330,1)" font-size="15.50">=</text>
<text transform="translate(143.57,59.90) scale(0.920,1)" font-size="15.50">0</text>
<text transform="translate(151.95,59.90) scale(1.120,1)" font-size="15.50" font-style="italic">h</text>
<line x1="68.2" y1="77.9" x2="102.9" y2="77.9" stroke="#008000" stroke-width="2.9"/>
<circle cx="86.0" cy="77.9" r="3.65" fill="#008000"/>
<text transform="translate(114.50,83.10) scale(1.050,1)" font-size="15.50" font-style="italic">x</text>
<text transform="translate(126.87,84.50) scale(1.330,1)" font-size="15.50">=</text>
<text transform="translate(143.57,83.10) scale(0.920,1)" font-size="15.50">0</text>
<text x="149.99" y="83.10" font-size="15.50">.</text>
<text transform="translate(153.47,83.10) scale(0.920,1)" font-size="15.50">7</text>
<text transform="translate(162.25,83.10) scale(1.120,1)" font-size="15.50" font-style="italic">h</text>
<line x1="68.2" y1="101.1" x2="102.9" y2="101.1" stroke="#9400d3" stroke-width="2.9"/>
<circle cx="86.0" cy="101.1" r="3.65" fill="#9400d3"/>
<text transform="translate(114.50,106.30) scale(1.050,1)" font-size="15.50" font-style="italic">x</text>
<text transform="translate(126.87,107.70) scale(1.330,1)" font-size="15.50">=</text>
<text transform="translate(142.85,106.30) scale(0.920,1)" font-size="15.50">1</text>
<text x="149.79" y="106.30" font-size="15.50">.</text>
<text transform="translate(153.38,106.30) scale(0.920,1)" font-size="15.50">5</text>
<text transform="translate(162.05,106.30) scale(1.120,1)" font-size="15.50" font-style="italic">h</text>
<line x1="68.2" y1="321.4" x2="102.9" y2="321.4" stroke="#000" stroke-width="2.9"/>
<text transform="translate(114.30,326.50) scale(1.103,1)" font-size="15.00">PCH-DNS</text>
<line x1="68.2" y1="344.7" x2="102.9" y2="344.7" stroke="#0000ff" stroke-width="2.9"/>
<circle cx="86.0" cy="344.7" r="3.65" fill="#0000ff"/>
<text transform="translate(114.50,349.90) scale(1.050,1)" font-size="15.50" font-style="italic">x</text>
<text transform="translate(126.87,351.30) scale(1.330,1)" font-size="15.50">=</text>
<text transform="translate(143.57,349.90) scale(0.920,1)" font-size="15.50">0</text>
<text transform="translate(151.95,349.90) scale(1.120,1)" font-size="15.50" font-style="italic">h</text>
<line x1="68.2" y1="367.9" x2="102.9" y2="367.9" stroke="#008080" stroke-width="2.9"/>
<circle cx="86.0" cy="367.9" r="3.65" fill="#008080"/>
<text transform="translate(114.50,373.10) scale(1.050,1)" font-size="15.50" font-style="italic">x</text>
<text transform="translate(126.87,374.50) scale(1.330,1)" font-size="15.50">=</text>
<text transform="translate(143.49,373.10) scale(0.920,1)" font-size="15.50">6</text>
<text transform="translate(151.95,373.10) scale(1.120,1)" font-size="15.50" font-style="italic">h</text>
<line x1="68.2" y1="391.1" x2="102.9" y2="391.1" stroke="#ff0000" stroke-width="2.9"/>
<circle cx="86.0" cy="391.1" r="3.65" fill="#ff0000"/>
<text transform="translate(114.50,396.30) scale(1.050,1)" font-size="15.50" font-style="italic">x</text>
<text transform="translate(126.87,397.70) scale(1.330,1)" font-size="15.50">=</text>
<text transform="translate(142.85,396.30) scale(0.920,1)" font-size="15.50">1</text>
<text transform="translate(149.26,396.30) scale(0.920,1)" font-size="15.50">2</text>
<text transform="translate(157.75,396.30) scale(1.120,1)" font-size="15.50" font-style="italic">h</text>
<line x1="418.8" y1="33.1" x2="453.1" y2="33.1" stroke="#9400d3" stroke-width="2.9"/>
<circle cx="435.8" cy="33.1" r="3.65" fill="#9400d3"/>
<text transform="translate(463.62,35.10) scale(1.100,1)" font-size="16.00" font-style="italic">u</text>
<path d="M474.10,26.60H481.50M477.80,22.90V30.30" stroke="#000" stroke-width="0.95" fill="none"/>
<text transform="translate(473.20,38.40) scale(1.296,1)" font-size="11.60" font-style="italic">rms</text>
<line x1="418.8" y1="57.6" x2="453.1" y2="57.6" stroke="#9400d3" stroke-width="2.9"/>
<rect x="432.2" y="54.0" width="7.3" height="7.3" fill="#9400d3"/>
<text transform="translate(464.15,59.00) scale(1.050,1)" font-size="16.00" font-style="italic">v</text>
<path d="M473.50,51.90H480.90M477.20,48.20V55.60" stroke="#000" stroke-width="0.95" fill="none"/>
<text transform="translate(471.80,63.30) scale(1.296,1)" font-size="11.60" font-style="italic">rms</text>
<line x1="418.8" y1="82.0" x2="453.1" y2="82.0" stroke="#9400d3" stroke-width="2.9"/>
<path d="M432.7,78.9L438.9,85.1M432.7,85.1L438.9,78.9" stroke="#9400d3" stroke-width="1.6"/>
<text transform="translate(463.94,83.50) scale(1.150,1)" font-size="16.00" font-style="italic">w</text>
<path d="M476.80,75.30H484.20M480.50,71.60V79.00" stroke="#000" stroke-width="0.95" fill="none"/>
<text transform="translate(475.40,87.80) scale(1.296,1)" font-size="11.60" font-style="italic">rms</text>
<line x1="418.8" y1="323.1" x2="453.1" y2="323.1" stroke="#ff0000" stroke-width="2.9"/>
<circle cx="435.8" cy="323.1" r="3.65" fill="#ff0000"/>
<text transform="translate(463.62,325.10) scale(1.100,1)" font-size="16.00" font-style="italic">u</text>
<path d="M474.10,316.60H481.50M477.80,312.90V320.30" stroke="#000" stroke-width="0.95" fill="none"/>
<text transform="translate(473.20,328.40) scale(1.296,1)" font-size="11.60" font-style="italic">rms</text>
<line x1="418.8" y1="347.6" x2="453.1" y2="347.6" stroke="#ff0000" stroke-width="2.9"/>
<rect x="432.2" y="344.0" width="7.3" height="7.3" fill="#ff0000"/>
<text transform="translate(464.15,349.00) scale(1.050,1)" font-size="16.00" font-style="italic">v</text>
<path d="M473.50,341.90H480.90M477.20,338.20V345.60" stroke="#000" stroke-width="0.95" fill="none"/>
<text transform="translate(471.80,353.30) scale(1.296,1)" font-size="11.60" font-style="italic">rms</text>
<line x1="418.8" y1="372.0" x2="453.1" y2="372.0" stroke="#ff0000" stroke-width="2.9"/>
<path d="M432.7,368.9L438.9,375.1M432.7,375.1L438.9,368.9" stroke="#ff0000" stroke-width="1.6"/>
<text transform="translate(463.94,373.50) scale(1.150,1)" font-size="16.00" font-style="italic">w</text>
<path d="M476.80,365.30H484.20M480.50,361.60V369.00" stroke="#000" stroke-width="0.95" fill="none"/>
<text transform="translate(475.40,377.80) scale(1.296,1)" font-size="11.60" font-style="italic">rms</text>
</svg>
</body></html>
